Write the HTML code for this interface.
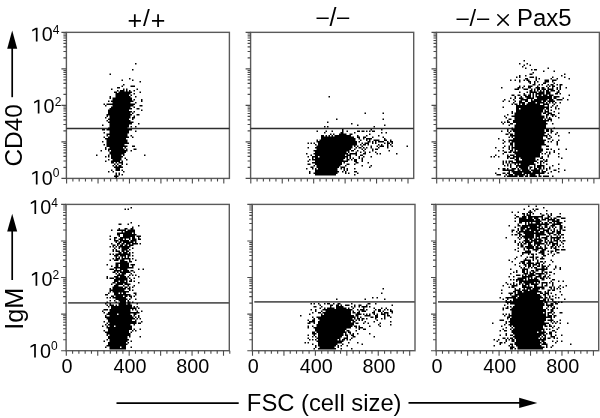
<!DOCTYPE html>
<html><head><meta charset="utf-8"><style>
html,body{margin:0;padding:0;background:#fff;}
body{width:600px;height:418px;overflow:hidden;}
svg{display:block;font-family:"Liberation Sans", sans-serif;}
</style></head><body>
<svg width="600" height="418" viewBox="0 0 600 418">
<rect width="600" height="418" fill="#fff"/>
<g>
<rect x="66.4" y="32.35" width="163.00" height="146.05" fill="none" stroke="#5a5a5a" stroke-width="1.4"/>
<path d="M61.40 178.40H66.4 M63.40 167.41H66.4 M63.40 160.98H66.4 M63.40 156.42H66.4 M63.40 152.88H66.4 M63.40 149.99H66.4 M63.40 147.54H66.4 M63.40 145.43H66.4 M63.40 143.56H66.4 M61.40 141.89H66.4 M63.40 130.90H66.4 M63.40 124.47H66.4 M63.40 119.90H66.4 M63.40 116.37H66.4 M63.40 113.48H66.4 M63.40 111.03H66.4 M63.40 108.91H66.4 M63.40 107.05H66.4 M61.40 105.38H66.4 M63.40 94.38H66.4 M63.40 87.95H66.4 M63.40 83.39H66.4 M63.40 79.85H66.4 M63.40 76.96H66.4 M63.40 74.52H66.4 M63.40 72.40H66.4 M63.40 70.53H66.4 M61.40 68.86H66.4 M63.40 57.87H66.4 M63.40 51.44H66.4 M63.40 46.88H66.4 M63.40 43.34H66.4 M63.40 40.45H66.4 M63.40 38.01H66.4 M63.40 35.89H66.4 M63.40 34.02H66.4 M61.40 32.35H66.4 M66.60 178.4V183.4 M72.89 178.4V181.4 M79.18 178.4V181.4 M85.46 178.4V181.4 M91.75 178.4V181.4 M98.04 178.4V183.4 M104.33 178.4V181.4 M110.62 178.4V181.4 M116.90 178.4V181.4 M123.19 178.4V181.4 M129.48 178.4V183.4 M135.77 178.4V181.4 M142.06 178.4V181.4 M148.34 178.4V181.4 M154.63 178.4V181.4 M160.92 178.4V183.4 M167.21 178.4V181.4 M173.50 178.4V181.4 M179.78 178.4V181.4 M186.07 178.4V181.4 M192.36 178.4V183.4 M198.65 178.4V181.4 M204.94 178.4V181.4 M211.22 178.4V181.4 M217.51 178.4V181.4 M223.80 178.4V183.4" stroke="#4a4a4a" stroke-width="1.1" fill="none"/>
<rect x="250.6" y="32.35" width="163.10" height="146.05" fill="none" stroke="#5a5a5a" stroke-width="1.4"/>
<path d="M245.60 178.40H250.6 M247.60 167.41H250.6 M247.60 160.98H250.6 M247.60 156.42H250.6 M247.60 152.88H250.6 M247.60 149.99H250.6 M247.60 147.54H250.6 M247.60 145.43H250.6 M247.60 143.56H250.6 M245.60 141.89H250.6 M247.60 130.90H250.6 M247.60 124.47H250.6 M247.60 119.90H250.6 M247.60 116.37H250.6 M247.60 113.48H250.6 M247.60 111.03H250.6 M247.60 108.91H250.6 M247.60 107.05H250.6 M245.60 105.38H250.6 M247.60 94.38H250.6 M247.60 87.95H250.6 M247.60 83.39H250.6 M247.60 79.85H250.6 M247.60 76.96H250.6 M247.60 74.52H250.6 M247.60 72.40H250.6 M247.60 70.53H250.6 M245.60 68.86H250.6 M247.60 57.87H250.6 M247.60 51.44H250.6 M247.60 46.88H250.6 M247.60 43.34H250.6 M247.60 40.45H250.6 M247.60 38.01H250.6 M247.60 35.89H250.6 M247.60 34.02H250.6 M245.60 32.35H250.6 M250.80 178.4V183.4 M257.09 178.4V181.4 M263.38 178.4V181.4 M269.66 178.4V181.4 M275.95 178.4V181.4 M282.24 178.4V183.4 M288.53 178.4V181.4 M294.82 178.4V181.4 M301.10 178.4V181.4 M307.39 178.4V181.4 M313.68 178.4V183.4 M319.97 178.4V181.4 M326.26 178.4V181.4 M332.54 178.4V181.4 M338.83 178.4V181.4 M345.12 178.4V183.4 M351.41 178.4V181.4 M357.70 178.4V181.4 M363.98 178.4V181.4 M370.27 178.4V181.4 M376.56 178.4V183.4 M382.85 178.4V181.4 M389.14 178.4V181.4 M395.42 178.4V181.4 M401.71 178.4V181.4 M408.00 178.4V183.4" stroke="#4a4a4a" stroke-width="1.1" fill="none"/>
<rect x="436.5" y="32.35" width="162.90" height="146.05" fill="none" stroke="#5a5a5a" stroke-width="1.4"/>
<path d="M431.50 178.40H436.5 M433.50 167.41H436.5 M433.50 160.98H436.5 M433.50 156.42H436.5 M433.50 152.88H436.5 M433.50 149.99H436.5 M433.50 147.54H436.5 M433.50 145.43H436.5 M433.50 143.56H436.5 M431.50 141.89H436.5 M433.50 130.90H436.5 M433.50 124.47H436.5 M433.50 119.90H436.5 M433.50 116.37H436.5 M433.50 113.48H436.5 M433.50 111.03H436.5 M433.50 108.91H436.5 M433.50 107.05H436.5 M431.50 105.38H436.5 M433.50 94.38H436.5 M433.50 87.95H436.5 M433.50 83.39H436.5 M433.50 79.85H436.5 M433.50 76.96H436.5 M433.50 74.52H436.5 M433.50 72.40H436.5 M433.50 70.53H436.5 M431.50 68.86H436.5 M433.50 57.87H436.5 M433.50 51.44H436.5 M433.50 46.88H436.5 M433.50 43.34H436.5 M433.50 40.45H436.5 M433.50 38.01H436.5 M433.50 35.89H436.5 M433.50 34.02H436.5 M431.50 32.35H436.5 M436.70 178.4V183.4 M442.99 178.4V181.4 M449.28 178.4V181.4 M455.56 178.4V181.4 M461.85 178.4V181.4 M468.14 178.4V183.4 M474.43 178.4V181.4 M480.72 178.4V181.4 M487.00 178.4V181.4 M493.29 178.4V181.4 M499.58 178.4V183.4 M505.87 178.4V181.4 M512.16 178.4V181.4 M518.44 178.4V181.4 M524.73 178.4V181.4 M531.02 178.4V183.4 M537.31 178.4V181.4 M543.60 178.4V181.4 M549.88 178.4V181.4 M556.17 178.4V181.4 M562.46 178.4V183.4 M568.75 178.4V181.4 M575.04 178.4V181.4 M581.32 178.4V181.4 M587.61 178.4V181.4 M593.90 178.4V183.4" stroke="#4a4a4a" stroke-width="1.1" fill="none"/>
<rect x="66.1" y="204.4" width="163.20" height="146.30" fill="none" stroke="#5a5a5a" stroke-width="1.4"/>
<path d="M61.10 350.70H66.1 M63.10 339.69H66.1 M63.10 333.25H66.1 M63.10 328.68H66.1 M63.10 325.14H66.1 M63.10 322.24H66.1 M63.10 319.79H66.1 M63.10 317.67H66.1 M63.10 315.80H66.1 M61.10 314.12H66.1 M63.10 303.11H66.1 M63.10 296.67H66.1 M63.10 292.10H66.1 M63.10 288.56H66.1 M63.10 285.66H66.1 M63.10 283.22H66.1 M63.10 281.09H66.1 M63.10 279.22H66.1 M61.10 277.55H66.1 M63.10 266.54H66.1 M63.10 260.10H66.1 M63.10 255.53H66.1 M63.10 251.99H66.1 M63.10 249.09H66.1 M63.10 246.64H66.1 M63.10 244.52H66.1 M63.10 242.65H66.1 M61.10 240.97H66.1 M63.10 229.96H66.1 M63.10 223.52H66.1 M63.10 218.95H66.1 M63.10 215.41H66.1 M63.10 212.51H66.1 M63.10 210.07H66.1 M63.10 207.94H66.1 M63.10 206.07H66.1 M61.10 204.40H66.1 M66.30 350.7V355.7 M72.59 350.7V353.7 M78.88 350.7V353.7 M85.16 350.7V353.7 M91.45 350.7V353.7 M97.74 350.7V355.7 M104.03 350.7V353.7 M110.32 350.7V353.7 M116.60 350.7V353.7 M122.89 350.7V353.7 M129.18 350.7V355.7 M135.47 350.7V353.7 M141.76 350.7V353.7 M148.04 350.7V353.7 M154.33 350.7V353.7 M160.62 350.7V355.7 M166.91 350.7V353.7 M173.20 350.7V353.7 M179.48 350.7V353.7 M185.77 350.7V353.7 M192.06 350.7V355.7 M198.35 350.7V353.7 M204.64 350.7V353.7 M210.92 350.7V353.7 M217.21 350.7V353.7 M223.50 350.7V355.7 M229.79 350.7V353.7" stroke="#4a4a4a" stroke-width="1.1" fill="none"/>
<rect x="252.3" y="204.4" width="162.70" height="146.30" fill="none" stroke="#5a5a5a" stroke-width="1.4"/>
<path d="M247.30 350.70H252.3 M249.30 339.69H252.3 M249.30 333.25H252.3 M249.30 328.68H252.3 M249.30 325.14H252.3 M249.30 322.24H252.3 M249.30 319.79H252.3 M249.30 317.67H252.3 M249.30 315.80H252.3 M247.30 314.12H252.3 M249.30 303.11H252.3 M249.30 296.67H252.3 M249.30 292.10H252.3 M249.30 288.56H252.3 M249.30 285.66H252.3 M249.30 283.22H252.3 M249.30 281.09H252.3 M249.30 279.22H252.3 M247.30 277.55H252.3 M249.30 266.54H252.3 M249.30 260.10H252.3 M249.30 255.53H252.3 M249.30 251.99H252.3 M249.30 249.09H252.3 M249.30 246.64H252.3 M249.30 244.52H252.3 M249.30 242.65H252.3 M247.30 240.97H252.3 M249.30 229.96H252.3 M249.30 223.52H252.3 M249.30 218.95H252.3 M249.30 215.41H252.3 M249.30 212.51H252.3 M249.30 210.07H252.3 M249.30 207.94H252.3 M249.30 206.07H252.3 M247.30 204.40H252.3 M252.50 350.7V355.7 M258.79 350.7V353.7 M265.08 350.7V353.7 M271.36 350.7V353.7 M277.65 350.7V353.7 M283.94 350.7V355.7 M290.23 350.7V353.7 M296.52 350.7V353.7 M302.80 350.7V353.7 M309.09 350.7V353.7 M315.38 350.7V355.7 M321.67 350.7V353.7 M327.96 350.7V353.7 M334.24 350.7V353.7 M340.53 350.7V353.7 M346.82 350.7V355.7 M353.11 350.7V353.7 M359.40 350.7V353.7 M365.68 350.7V353.7 M371.97 350.7V353.7 M378.26 350.7V355.7 M384.55 350.7V353.7 M390.84 350.7V353.7 M397.12 350.7V353.7 M403.41 350.7V353.7 M409.70 350.7V355.7" stroke="#4a4a4a" stroke-width="1.1" fill="none"/>
<rect x="436.0" y="204.4" width="162.70" height="146.30" fill="none" stroke="#5a5a5a" stroke-width="1.4"/>
<path d="M431.00 350.70H436.0 M433.00 339.69H436.0 M433.00 333.25H436.0 M433.00 328.68H436.0 M433.00 325.14H436.0 M433.00 322.24H436.0 M433.00 319.79H436.0 M433.00 317.67H436.0 M433.00 315.80H436.0 M431.00 314.12H436.0 M433.00 303.11H436.0 M433.00 296.67H436.0 M433.00 292.10H436.0 M433.00 288.56H436.0 M433.00 285.66H436.0 M433.00 283.22H436.0 M433.00 281.09H436.0 M433.00 279.22H436.0 M431.00 277.55H436.0 M433.00 266.54H436.0 M433.00 260.10H436.0 M433.00 255.53H436.0 M433.00 251.99H436.0 M433.00 249.09H436.0 M433.00 246.64H436.0 M433.00 244.52H436.0 M433.00 242.65H436.0 M431.00 240.97H436.0 M433.00 229.96H436.0 M433.00 223.52H436.0 M433.00 218.95H436.0 M433.00 215.41H436.0 M433.00 212.51H436.0 M433.00 210.07H436.0 M433.00 207.94H436.0 M433.00 206.07H436.0 M431.00 204.40H436.0 M436.20 350.7V355.7 M442.49 350.7V353.7 M448.78 350.7V353.7 M455.06 350.7V353.7 M461.35 350.7V353.7 M467.64 350.7V355.7 M473.93 350.7V353.7 M480.22 350.7V353.7 M486.50 350.7V353.7 M492.79 350.7V353.7 M499.08 350.7V355.7 M505.37 350.7V353.7 M511.66 350.7V353.7 M517.94 350.7V353.7 M524.23 350.7V353.7 M530.52 350.7V355.7 M536.81 350.7V353.7 M543.10 350.7V353.7 M549.38 350.7V353.7 M555.67 350.7V353.7 M561.96 350.7V355.7 M568.25 350.7V353.7 M574.54 350.7V353.7 M580.82 350.7V353.7 M587.11 350.7V353.7 M593.40 350.7V355.7" stroke="#4a4a4a" stroke-width="1.1" fill="none"/>
<path d="M66.4 128.46H229.4" stroke="#2e2e2e" stroke-width="1.6"/>
<path d="M250.6 128.46H413.7" stroke="#2e2e2e" stroke-width="1.6"/>
<path d="M436.5 128.46H599.4" stroke="#2e2e2e" stroke-width="1.6"/>
<path d="M68.1 302.9H229.3" stroke="#5a5a5a" stroke-width="1.7"/>
<path d="M254.3 301.9H415.0" stroke="#5a5a5a" stroke-width="1.7"/>
<path d="M438.0 301.9H598.7" stroke="#5a5a5a" stroke-width="1.7"/>
<path d="M12.2 97.2V46" stroke="#000" stroke-width="1.7"/>
<path d="M12.2 30.5L17.2 48.7L7.2 48.7Z" fill="#000"/>
<path d="M12.2 280V229" stroke="#000" stroke-width="1.7"/>
<path d="M12.2 213.8L17.2 231.6L7.2 231.6Z" fill="#000"/>
<path d="M116.5 403.2H238.7" stroke="#000" stroke-width="1.7"/>
<path d="M408.5 402.9H521" stroke="#000" stroke-width="1.7"/>
<path d="M537.3 402.9L519.2 397.8L519.2 407.9Z" fill="#000"/>
<path d="M497.8 14.8L508.3 25.1M508.3 14.8L497.8 25.1" stroke="#000" stroke-width="1.5" stroke-linecap="round" fill="none"/>
<path fill="#000" d="M523.5 60h1.5v1.5h-1.5zM135 63h1.5v1.5h-1.5zM519 63h1.5v1.5h-1.5zM526.5 63h1.5v1.5h-1.5zM523.5 64.5h1.5v1.5h-1.5zM529.5 64.5h1.5v1.5h-1.5zM522 66h1.5v1.5h-1.5zM525 67.5h1.5v1.5h-1.5zM547.5 67.5h1.5v1.5h-1.5zM132 69h1.5v1.5h-1.5zM531 69h1.5v1.5h-1.5zM534 69h3v1.5h-3zM543 70.5h1.5v1.5h-1.5zM553.5 70.5h1.5v1.5h-1.5zM532.5 72h1.5v1.5h-1.5zM109.5 73.5h1.5v1.5h-1.5zM529.5 73.5h3v1.5h-3zM564 73.5h1.5v1.5h-1.5zM519 75h1.5v1.5h-1.5zM525 75h1.5v1.5h-1.5zM561 75h1.5v1.5h-1.5zM516 76.5h1.5v1.5h-1.5zM519 76.5h1.5v1.5h-1.5zM529.5 76.5h4.5v1.5h-4.5zM535.5 76.5h1.5v1.5h-1.5zM552 76.5h1.5v1.5h-1.5zM564 76.5h1.5v1.5h-1.5zM129 78h1.5v1.5h-1.5zM525 78h3v1.5h-3zM535.5 78h1.5v1.5h-1.5zM538.5 78h1.5v1.5h-1.5zM550.5 78h1.5v1.5h-1.5zM556.5 78h1.5v1.5h-1.5zM568.5 78h1.5v1.5h-1.5zM121.5 79.5h1.5v1.5h-1.5zM132 79.5h1.5v1.5h-1.5zM510 79.5h1.5v1.5h-1.5zM514.5 79.5h1.5v1.5h-1.5zM519 79.5h1.5v1.5h-1.5zM523.5 79.5h1.5v1.5h-1.5zM526.5 79.5h3v1.5h-3zM535.5 79.5h1.5v1.5h-1.5zM544.5 79.5h4.5v1.5h-4.5zM552 79.5h4.5v1.5h-4.5zM139.5 81h1.5v1.5h-1.5zM519 81h1.5v1.5h-1.5zM528 81h3v1.5h-3zM534 81h1.5v1.5h-1.5zM537 81h1.5v1.5h-1.5zM544.5 81h4.5v1.5h-4.5zM552 81h1.5v1.5h-1.5zM529.5 82.5h1.5v1.5h-1.5zM534 82.5h1.5v1.5h-1.5zM543 82.5h3v1.5h-3zM553.5 82.5h1.5v1.5h-1.5zM123 84h1.5v1.5h-1.5zM532.5 84h3v1.5h-3zM538.5 84h1.5v1.5h-1.5zM541.5 84h1.5v1.5h-1.5zM547.5 84h1.5v1.5h-1.5zM550.5 84h3v1.5h-3zM556.5 84h1.5v1.5h-1.5zM559.5 84h3v1.5h-3zM121.5 85.5h1.5v1.5h-1.5zM130.5 85.5h4.5v1.5h-4.5zM519 85.5h1.5v1.5h-1.5zM523.5 85.5h1.5v1.5h-1.5zM528 85.5h4.5v1.5h-4.5zM537 85.5h1.5v1.5h-1.5zM546 85.5h1.5v1.5h-1.5zM549 85.5h1.5v1.5h-1.5zM552 85.5h3v1.5h-3zM559.5 85.5h1.5v1.5h-1.5zM117 87h3v1.5h-3zM501 87h1.5v1.5h-1.5zM517.5 87h3v1.5h-3zM522 87h1.5v1.5h-1.5zM528 87h3v1.5h-3zM535.5 87h4.5v1.5h-4.5zM541.5 87h3v1.5h-3zM547.5 87h1.5v1.5h-1.5zM552 87h1.5v1.5h-1.5zM556.5 87h1.5v1.5h-1.5zM559.5 87h1.5v1.5h-1.5zM565.5 87h1.5v1.5h-1.5zM111 88.5h1.5v1.5h-1.5zM123 88.5h1.5v1.5h-1.5zM126 88.5h1.5v1.5h-1.5zM136.5 88.5h1.5v1.5h-1.5zM514.5 88.5h4.5v1.5h-4.5zM523.5 88.5h4.5v1.5h-4.5zM531 88.5h1.5v1.5h-1.5zM534 88.5h1.5v1.5h-1.5zM537 88.5h3v1.5h-3zM541.5 88.5h4.5v1.5h-4.5zM547.5 88.5h6v1.5h-6zM556.5 88.5h1.5v1.5h-1.5zM559.5 88.5h1.5v1.5h-1.5zM117 90h1.5v1.5h-1.5zM120 90h4.5v1.5h-4.5zM126 90h1.5v1.5h-1.5zM129 90h1.5v1.5h-1.5zM133.5 90h1.5v1.5h-1.5zM529.5 90h3v1.5h-3zM534 90h1.5v1.5h-1.5zM537 90h1.5v1.5h-1.5zM540 90h1.5v1.5h-1.5zM543 90h1.5v1.5h-1.5zM546 90h3v1.5h-3zM550.5 90h4.5v1.5h-4.5zM558 90h1.5v1.5h-1.5zM114 91.5h3v1.5h-3zM118.5 91.5h13.5v1.5h-13.5zM139.5 91.5h1.5v1.5h-1.5zM519 91.5h1.5v1.5h-1.5zM526.5 91.5h1.5v1.5h-1.5zM529.5 91.5h7.5v1.5h-7.5zM538.5 91.5h6v1.5h-6zM546 91.5h4.5v1.5h-4.5zM556.5 91.5h3v1.5h-3zM115.5 93h15v1.5h-15zM133.5 93h1.5v1.5h-1.5zM523.5 93h1.5v1.5h-1.5zM529.5 93h1.5v1.5h-1.5zM532.5 93h1.5v1.5h-1.5zM535.5 93h9v1.5h-9zM546 93h4.5v1.5h-4.5zM555 93h3v1.5h-3zM559.5 93h1.5v1.5h-1.5zM115.5 94.5h13.5v1.5h-13.5zM130.5 94.5h1.5v1.5h-1.5zM511.5 94.5h3v1.5h-3zM517.5 94.5h3v1.5h-3zM523.5 94.5h3v1.5h-3zM528 94.5h3v1.5h-3zM532.5 94.5h1.5v1.5h-1.5zM535.5 94.5h1.5v1.5h-1.5zM538.5 94.5h3v1.5h-3zM543 94.5h4.5v1.5h-4.5zM549 94.5h4.5v1.5h-4.5zM568.5 94.5h1.5v1.5h-1.5zM109.5 96h1.5v1.5h-1.5zM115.5 96h15v1.5h-15zM135 96h1.5v1.5h-1.5zM328.5 96h1.5v1.5h-1.5zM514.5 96h1.5v1.5h-1.5zM520.5 96h1.5v1.5h-1.5zM525 96h6v1.5h-6zM532.5 96h1.5v1.5h-1.5zM535.5 96h16.5v1.5h-16.5zM553.5 96h6v1.5h-6zM109.5 97.5h1.5v1.5h-1.5zM112.5 97.5h19.5v1.5h-19.5zM510 97.5h1.5v1.5h-1.5zM514.5 97.5h1.5v1.5h-1.5zM519 97.5h4.5v1.5h-4.5zM526.5 97.5h7.5v1.5h-7.5zM537 97.5h15v1.5h-15zM553.5 97.5h3v1.5h-3zM562.5 97.5h1.5v1.5h-1.5zM112.5 99h19.5v1.5h-19.5zM133.5 99h1.5v1.5h-1.5zM141 99h1.5v1.5h-1.5zM504 99h1.5v1.5h-1.5zM513 99h1.5v1.5h-1.5zM520.5 99h7.5v1.5h-7.5zM531 99h1.5v1.5h-1.5zM534 99h13.5v1.5h-13.5zM549 99h4.5v1.5h-4.5zM556.5 99h6v1.5h-6zM567 99h1.5v1.5h-1.5zM108 100.5h1.5v1.5h-1.5zM111 100.5h22.5v1.5h-22.5zM141 100.5h1.5v1.5h-1.5zM502.5 100.5h1.5v1.5h-1.5zM508.5 100.5h1.5v1.5h-1.5zM514.5 100.5h1.5v1.5h-1.5zM519 100.5h3v1.5h-3zM525 100.5h3v1.5h-3zM531 100.5h10.5v1.5h-10.5zM543 100.5h3v1.5h-3zM547.5 100.5h7.5v1.5h-7.5zM112.5 102h18v1.5h-18zM135 102h1.5v1.5h-1.5zM513 102h1.5v1.5h-1.5zM519 102h6v1.5h-6zM528 102h7.5v1.5h-7.5zM537 102h7.5v1.5h-7.5zM546 102h1.5v1.5h-1.5zM549 102h1.5v1.5h-1.5zM552 102h1.5v1.5h-1.5zM555 102h1.5v1.5h-1.5zM559.5 102h1.5v1.5h-1.5zM103.5 103.5h1.5v1.5h-1.5zM106.5 103.5h28.5v1.5h-28.5zM511.5 103.5h1.5v1.5h-1.5zM514.5 103.5h3v1.5h-3zM519 103.5h1.5v1.5h-1.5zM522 103.5h3v1.5h-3zM526.5 103.5h13.5v1.5h-13.5zM543 103.5h6v1.5h-6zM553.5 103.5h1.5v1.5h-1.5zM105 105h1.5v1.5h-1.5zM112.5 105h21v1.5h-21zM139.5 105h3v1.5h-3zM516 105h28.5v1.5h-28.5zM547.5 105h1.5v1.5h-1.5zM552 105h1.5v1.5h-1.5zM556.5 105h1.5v1.5h-1.5zM111 106.5h19.5v1.5h-19.5zM133.5 106.5h1.5v1.5h-1.5zM502.5 106.5h1.5v1.5h-1.5zM516 106.5h33v1.5h-33zM550.5 106.5h1.5v1.5h-1.5zM555 106.5h1.5v1.5h-1.5zM109.5 108h22.5v1.5h-22.5zM136.5 108h3v1.5h-3zM516 108h3v1.5h-3zM520.5 108h24v1.5h-24zM546 108h3v1.5h-3zM555 108h1.5v1.5h-1.5zM558 108h1.5v1.5h-1.5zM108 109.5h21v1.5h-21zM141 109.5h1.5v1.5h-1.5zM516 109.5h27v1.5h-27zM544.5 109.5h1.5v1.5h-1.5zM547.5 109.5h1.5v1.5h-1.5zM550.5 109.5h1.5v1.5h-1.5zM108 111h24v1.5h-24zM133.5 111h1.5v1.5h-1.5zM511.5 111h1.5v1.5h-1.5zM516 111h27v1.5h-27zM544.5 111h4.5v1.5h-4.5zM553.5 111h1.5v1.5h-1.5zM108 112.5h22.5v1.5h-22.5zM132 112.5h1.5v1.5h-1.5zM364.5 112.5h1.5v1.5h-1.5zM382.5 112.5h1.5v1.5h-1.5zM511.5 112.5h1.5v1.5h-1.5zM514.5 112.5h27v1.5h-27zM543 112.5h3v1.5h-3zM547.5 112.5h4.5v1.5h-4.5zM558 112.5h1.5v1.5h-1.5zM106.5 114h25.5v1.5h-25.5zM136.5 114h3v1.5h-3zM507 114h1.5v1.5h-1.5zM514.5 114h27v1.5h-27zM546 114h3v1.5h-3zM550.5 114h4.5v1.5h-4.5zM106.5 115.5h1.5v1.5h-1.5zM109.5 115.5h21v1.5h-21zM133.5 115.5h1.5v1.5h-1.5zM504 115.5h1.5v1.5h-1.5zM511.5 115.5h33v1.5h-33zM546 115.5h1.5v1.5h-1.5zM552 115.5h1.5v1.5h-1.5zM555 115.5h1.5v1.5h-1.5zM105 117h1.5v1.5h-1.5zM109.5 117h21v1.5h-21zM132 117h3v1.5h-3zM505.5 117h1.5v1.5h-1.5zM514.5 117h30v1.5h-30zM546 117h1.5v1.5h-1.5zM549 117h1.5v1.5h-1.5zM558 117h1.5v1.5h-1.5zM108 118.5h21v1.5h-21zM132 118.5h1.5v1.5h-1.5zM336 118.5h1.5v1.5h-1.5zM382.5 118.5h1.5v1.5h-1.5zM508.5 118.5h3v1.5h-3zM514.5 118.5h28.5v1.5h-28.5zM544.5 118.5h1.5v1.5h-1.5zM547.5 118.5h4.5v1.5h-4.5zM106.5 120h1.5v1.5h-1.5zM109.5 120h21v1.5h-21zM507 120h1.5v1.5h-1.5zM513 120h36v1.5h-36zM550.5 120h1.5v1.5h-1.5zM108 121.5h25.5v1.5h-25.5zM327 121.5h1.5v1.5h-1.5zM501 121.5h1.5v1.5h-1.5zM504 121.5h1.5v1.5h-1.5zM507 121.5h3v1.5h-3zM513 121.5h33v1.5h-33zM109.5 123h22.5v1.5h-22.5zM138 123h1.5v1.5h-1.5zM351 123h1.5v1.5h-1.5zM502.5 123h1.5v1.5h-1.5zM510 123h3v1.5h-3zM516 123h31.5v1.5h-31.5zM552 123h1.5v1.5h-1.5zM102 124.5h1.5v1.5h-1.5zM109.5 124.5h19.5v1.5h-19.5zM357 124.5h1.5v1.5h-1.5zM384 124.5h1.5v1.5h-1.5zM508.5 124.5h1.5v1.5h-1.5zM514.5 124.5h31.5v1.5h-31.5zM109.5 126h19.5v1.5h-19.5zM130.5 126h1.5v1.5h-1.5zM135 126h1.5v1.5h-1.5zM324 126h1.5v1.5h-1.5zM327 126h1.5v1.5h-1.5zM373.5 126h1.5v1.5h-1.5zM514.5 126h31.5v1.5h-31.5zM108 127.5h19.5v1.5h-19.5zM511.5 127.5h1.5v1.5h-1.5zM514.5 127.5h31.5v1.5h-31.5zM553.5 127.5h1.5v1.5h-1.5zM102 129h3v1.5h-3zM106.5 129h25.5v1.5h-25.5zM342 129h1.5v1.5h-1.5zM370.5 129h1.5v1.5h-1.5zM381 129h1.5v1.5h-1.5zM507 129h1.5v1.5h-1.5zM511.5 129h33v1.5h-33zM546 129h3v1.5h-3zM550.5 129h1.5v1.5h-1.5zM109.5 130.5h19.5v1.5h-19.5zM135 130.5h1.5v1.5h-1.5zM316.5 130.5h1.5v1.5h-1.5zM325.5 130.5h1.5v1.5h-1.5zM331.5 130.5h1.5v1.5h-1.5zM342 130.5h1.5v1.5h-1.5zM346.5 130.5h1.5v1.5h-1.5zM357 130.5h3v1.5h-3zM361.5 130.5h3v1.5h-3zM366 130.5h1.5v1.5h-1.5zM369 130.5h1.5v1.5h-1.5zM372 130.5h3v1.5h-3zM501 130.5h1.5v1.5h-1.5zM507 130.5h1.5v1.5h-1.5zM510 130.5h1.5v1.5h-1.5zM513 130.5h31.5v1.5h-31.5zM546 130.5h3v1.5h-3zM550.5 130.5h3v1.5h-3zM103.5 132h1.5v1.5h-1.5zM109.5 132h19.5v1.5h-19.5zM324 132h1.5v1.5h-1.5zM340.5 132h3v1.5h-3zM354 132h1.5v1.5h-1.5zM381 132h1.5v1.5h-1.5zM385.5 132h1.5v1.5h-1.5zM508.5 132h1.5v1.5h-1.5zM514.5 132h31.5v1.5h-31.5zM550.5 132h1.5v1.5h-1.5zM556.5 132h1.5v1.5h-1.5zM568.5 132h1.5v1.5h-1.5zM106.5 133.5h21v1.5h-21zM330 133.5h1.5v1.5h-1.5zM333 133.5h1.5v1.5h-1.5zM339 133.5h7.5v1.5h-7.5zM349.5 133.5h3v1.5h-3zM369 133.5h1.5v1.5h-1.5zM505.5 133.5h3v1.5h-3zM510 133.5h3v1.5h-3zM514.5 133.5h30v1.5h-30zM547.5 133.5h1.5v1.5h-1.5zM555 133.5h1.5v1.5h-1.5zM106.5 135h1.5v1.5h-1.5zM109.5 135h18v1.5h-18zM130.5 135h1.5v1.5h-1.5zM321 135h3v1.5h-3zM325.5 135h1.5v1.5h-1.5zM328.5 135h1.5v1.5h-1.5zM331.5 135h1.5v1.5h-1.5zM334.5 135h16.5v1.5h-16.5zM357 135h1.5v1.5h-1.5zM366 135h1.5v1.5h-1.5zM378 135h1.5v1.5h-1.5zM510 135h37.5v1.5h-37.5zM549 135h1.5v1.5h-1.5zM558 135h1.5v1.5h-1.5zM103.5 136.5h1.5v1.5h-1.5zM108 136.5h21v1.5h-21zM132 136.5h1.5v1.5h-1.5zM321 136.5h33v1.5h-33zM357 136.5h3v1.5h-3zM363 136.5h3v1.5h-3zM372 136.5h1.5v1.5h-1.5zM382.5 136.5h1.5v1.5h-1.5zM508.5 136.5h1.5v1.5h-1.5zM511.5 136.5h1.5v1.5h-1.5zM514.5 136.5h28.5v1.5h-28.5zM546 136.5h1.5v1.5h-1.5zM550.5 136.5h1.5v1.5h-1.5zM105 138h21v1.5h-21zM321 138h34.5v1.5h-34.5zM358.5 138h1.5v1.5h-1.5zM363 138h1.5v1.5h-1.5zM366 138h6v1.5h-6zM384 138h1.5v1.5h-1.5zM498 138h1.5v1.5h-1.5zM513 138h30v1.5h-30zM547.5 138h3v1.5h-3zM106.5 139.5h21v1.5h-21zM316.5 139.5h1.5v1.5h-1.5zM319.5 139.5h36v1.5h-36zM360 139.5h1.5v1.5h-1.5zM366 139.5h1.5v1.5h-1.5zM369 139.5h1.5v1.5h-1.5zM373.5 139.5h6v1.5h-6zM384 139.5h3v1.5h-3zM390 139.5h1.5v1.5h-1.5zM502.5 139.5h1.5v1.5h-1.5zM508.5 139.5h37.5v1.5h-37.5zM552 139.5h1.5v1.5h-1.5zM558 139.5h1.5v1.5h-1.5zM102 141h1.5v1.5h-1.5zM106.5 141h21v1.5h-21zM316.5 141h40.5v1.5h-40.5zM358.5 141h1.5v1.5h-1.5zM367.5 141h3v1.5h-3zM372 141h1.5v1.5h-1.5zM375 141h1.5v1.5h-1.5zM378 141h6v1.5h-6zM387 141h1.5v1.5h-1.5zM390 141h3v1.5h-3zM504 141h1.5v1.5h-1.5zM508.5 141h1.5v1.5h-1.5zM511.5 141h33v1.5h-33zM547.5 141h1.5v1.5h-1.5zM550.5 141h1.5v1.5h-1.5zM556.5 141h1.5v1.5h-1.5zM106.5 142.5h22.5v1.5h-22.5zM307.5 142.5h1.5v1.5h-1.5zM310.5 142.5h1.5v1.5h-1.5zM313.5 142.5h1.5v1.5h-1.5zM318 142.5h39v1.5h-39zM361.5 142.5h1.5v1.5h-1.5zM364.5 142.5h4.5v1.5h-4.5zM372 142.5h1.5v1.5h-1.5zM375 142.5h1.5v1.5h-1.5zM384 142.5h1.5v1.5h-1.5zM387 142.5h3v1.5h-3zM391.5 142.5h1.5v1.5h-1.5zM502.5 142.5h1.5v1.5h-1.5zM510 142.5h3v1.5h-3zM514.5 142.5h30v1.5h-30zM556.5 142.5h1.5v1.5h-1.5zM103.5 144h1.5v1.5h-1.5zM106.5 144h18v1.5h-18zM315 144h1.5v1.5h-1.5zM318 144h39v1.5h-39zM360 144h1.5v1.5h-1.5zM363 144h3v1.5h-3zM367.5 144h1.5v1.5h-1.5zM378 144h1.5v1.5h-1.5zM381 144h1.5v1.5h-1.5zM387 144h1.5v1.5h-1.5zM390 144h1.5v1.5h-1.5zM510 144h3v1.5h-3zM514.5 144h31.5v1.5h-31.5zM556.5 144h1.5v1.5h-1.5zM106.5 145.5h21v1.5h-21zM132 145.5h3v1.5h-3zM316.5 145.5h36v1.5h-36zM354 145.5h1.5v1.5h-1.5zM357 145.5h1.5v1.5h-1.5zM361.5 145.5h1.5v1.5h-1.5zM370.5 145.5h1.5v1.5h-1.5zM376.5 145.5h1.5v1.5h-1.5zM379.5 145.5h4.5v1.5h-4.5zM387 145.5h1.5v1.5h-1.5zM391.5 145.5h1.5v1.5h-1.5zM406.5 145.5h1.5v1.5h-1.5zM504 145.5h1.5v1.5h-1.5zM508.5 145.5h1.5v1.5h-1.5zM511.5 145.5h1.5v1.5h-1.5zM514.5 145.5h27v1.5h-27zM546 145.5h3v1.5h-3zM105 147h1.5v1.5h-1.5zM109.5 147h13.5v1.5h-13.5zM124.5 147h1.5v1.5h-1.5zM307.5 147h1.5v1.5h-1.5zM315 147h37.5v1.5h-37.5zM355.5 147h1.5v1.5h-1.5zM358.5 147h3v1.5h-3zM363 147h1.5v1.5h-1.5zM366 147h1.5v1.5h-1.5zM370.5 147h1.5v1.5h-1.5zM378 147h1.5v1.5h-1.5zM387 147h1.5v1.5h-1.5zM495 147h1.5v1.5h-1.5zM502.5 147h1.5v1.5h-1.5zM508.5 147h1.5v1.5h-1.5zM511.5 147h30v1.5h-30zM105 148.5h1.5v1.5h-1.5zM108 148.5h16.5v1.5h-16.5zM126 148.5h1.5v1.5h-1.5zM133.5 148.5h3v1.5h-3zM316.5 148.5h34.5v1.5h-34.5zM354 148.5h1.5v1.5h-1.5zM361.5 148.5h1.5v1.5h-1.5zM364.5 148.5h1.5v1.5h-1.5zM372 148.5h1.5v1.5h-1.5zM375 148.5h3v1.5h-3zM508.5 148.5h1.5v1.5h-1.5zM511.5 148.5h1.5v1.5h-1.5zM514.5 148.5h28.5v1.5h-28.5zM546 148.5h3v1.5h-3zM550.5 148.5h1.5v1.5h-1.5zM558 148.5h1.5v1.5h-1.5zM565.5 148.5h1.5v1.5h-1.5zM100.5 150h1.5v1.5h-1.5zM108 150h1.5v1.5h-1.5zM111 150h16.5v1.5h-16.5zM130.5 150h1.5v1.5h-1.5zM313.5 150h36v1.5h-36zM351 150h3v1.5h-3zM357 150h1.5v1.5h-1.5zM363 150h1.5v1.5h-1.5zM372 150h1.5v1.5h-1.5zM388.5 150h1.5v1.5h-1.5zM498 150h1.5v1.5h-1.5zM502.5 150h1.5v1.5h-1.5zM510 150h3v1.5h-3zM514.5 150h1.5v1.5h-1.5zM517.5 150h25.5v1.5h-25.5zM553.5 150h1.5v1.5h-1.5zM109.5 151.5h16.5v1.5h-16.5zM315 151.5h31.5v1.5h-31.5zM348 151.5h1.5v1.5h-1.5zM355.5 151.5h1.5v1.5h-1.5zM360 151.5h1.5v1.5h-1.5zM364.5 151.5h1.5v1.5h-1.5zM369 151.5h1.5v1.5h-1.5zM375 151.5h1.5v1.5h-1.5zM504 151.5h3v1.5h-3zM508.5 151.5h3v1.5h-3zM513 151.5h28.5v1.5h-28.5zM546 151.5h1.5v1.5h-1.5zM549 151.5h1.5v1.5h-1.5zM553.5 151.5h1.5v1.5h-1.5zM109.5 153h15v1.5h-15zM306 153h1.5v1.5h-1.5zM313.5 153h34.5v1.5h-34.5zM349.5 153h7.5v1.5h-7.5zM363 153h3v1.5h-3zM376.5 153h1.5v1.5h-1.5zM379.5 153h1.5v1.5h-1.5zM396 153h1.5v1.5h-1.5zM502.5 153h1.5v1.5h-1.5zM514.5 153h25.5v1.5h-25.5zM541.5 153h1.5v1.5h-1.5zM544.5 153h1.5v1.5h-1.5zM549 153h1.5v1.5h-1.5zM558 153h1.5v1.5h-1.5zM96 154.5h1.5v1.5h-1.5zM108 154.5h1.5v1.5h-1.5zM111 154.5h10.5v1.5h-10.5zM123 154.5h1.5v1.5h-1.5zM144 154.5h1.5v1.5h-1.5zM310.5 154.5h1.5v1.5h-1.5zM315 154.5h30v1.5h-30zM346.5 154.5h4.5v1.5h-4.5zM355.5 154.5h1.5v1.5h-1.5zM360 154.5h3v1.5h-3zM495 154.5h1.5v1.5h-1.5zM507 154.5h1.5v1.5h-1.5zM510 154.5h4.5v1.5h-4.5zM516 154.5h24v1.5h-24zM547.5 154.5h1.5v1.5h-1.5zM105 156h1.5v1.5h-1.5zM108 156h1.5v1.5h-1.5zM111 156h12v1.5h-12zM307.5 156h1.5v1.5h-1.5zM312 156h6v1.5h-6zM319.5 156h28.5v1.5h-28.5zM349.5 156h1.5v1.5h-1.5zM358.5 156h1.5v1.5h-1.5zM363 156h1.5v1.5h-1.5zM370.5 156h1.5v1.5h-1.5zM490.5 156h1.5v1.5h-1.5zM493.5 156h1.5v1.5h-1.5zM498 156h1.5v1.5h-1.5zM507 156h3v1.5h-3zM513 156h27v1.5h-27zM541.5 156h1.5v1.5h-1.5zM547.5 156h1.5v1.5h-1.5zM558 156h1.5v1.5h-1.5zM111 157.5h10.5v1.5h-10.5zM124.5 157.5h1.5v1.5h-1.5zM312 157.5h1.5v1.5h-1.5zM315 157.5h30v1.5h-30zM346.5 157.5h1.5v1.5h-1.5zM349.5 157.5h1.5v1.5h-1.5zM352.5 157.5h1.5v1.5h-1.5zM358.5 157.5h1.5v1.5h-1.5zM361.5 157.5h1.5v1.5h-1.5zM507 157.5h1.5v1.5h-1.5zM510 157.5h4.5v1.5h-4.5zM516 157.5h3v1.5h-3zM520.5 157.5h15v1.5h-15zM540 157.5h3v1.5h-3zM561 157.5h1.5v1.5h-1.5zM108 159h1.5v1.5h-1.5zM112.5 159h9v1.5h-9zM126 159h1.5v1.5h-1.5zM309 159h1.5v1.5h-1.5zM312 159h31.5v1.5h-31.5zM346.5 159h3v1.5h-3zM351 159h1.5v1.5h-1.5zM354 159h3v1.5h-3zM361.5 159h1.5v1.5h-1.5zM514.5 159h4.5v1.5h-4.5zM522 159h13.5v1.5h-13.5zM537 159h1.5v1.5h-1.5zM543 159h1.5v1.5h-1.5zM546 159h1.5v1.5h-1.5zM105 160.5h1.5v1.5h-1.5zM111 160.5h9v1.5h-9zM121.5 160.5h1.5v1.5h-1.5zM307.5 160.5h1.5v1.5h-1.5zM315 160.5h33v1.5h-33zM354 160.5h3v1.5h-3zM361.5 160.5h1.5v1.5h-1.5zM502.5 160.5h1.5v1.5h-1.5zM505.5 160.5h1.5v1.5h-1.5zM508.5 160.5h4.5v1.5h-4.5zM516 160.5h21v1.5h-21zM540 160.5h3v1.5h-3zM544.5 160.5h3v1.5h-3zM111 162h3v1.5h-3zM115.5 162h1.5v1.5h-1.5zM118.5 162h4.5v1.5h-4.5zM312 162h30v1.5h-30zM343.5 162h1.5v1.5h-1.5zM355.5 162h3v1.5h-3zM367.5 162h1.5v1.5h-1.5zM502.5 162h1.5v1.5h-1.5zM505.5 162h1.5v1.5h-1.5zM508.5 162h1.5v1.5h-1.5zM511.5 162h22.5v1.5h-22.5zM537 162h1.5v1.5h-1.5zM540 162h1.5v1.5h-1.5zM543 162h1.5v1.5h-1.5zM114 163.5h1.5v1.5h-1.5zM117 163.5h1.5v1.5h-1.5zM121.5 163.5h1.5v1.5h-1.5zM126 163.5h1.5v1.5h-1.5zM307.5 163.5h3v1.5h-3zM315 163.5h27v1.5h-27zM346.5 163.5h3v1.5h-3zM354 163.5h1.5v1.5h-1.5zM502.5 163.5h1.5v1.5h-1.5zM507 163.5h1.5v1.5h-1.5zM510 163.5h1.5v1.5h-1.5zM514.5 163.5h1.5v1.5h-1.5zM517.5 163.5h1.5v1.5h-1.5zM520.5 163.5h15v1.5h-15zM540 163.5h1.5v1.5h-1.5zM546 163.5h1.5v1.5h-1.5zM558 163.5h1.5v1.5h-1.5zM112.5 165h1.5v1.5h-1.5zM115.5 165h1.5v1.5h-1.5zM118.5 165h3v1.5h-3zM313.5 165h1.5v1.5h-1.5zM316.5 165h24v1.5h-24zM345 165h1.5v1.5h-1.5zM361.5 165h1.5v1.5h-1.5zM370.5 165h1.5v1.5h-1.5zM504 165h1.5v1.5h-1.5zM507 165h1.5v1.5h-1.5zM510 165h1.5v1.5h-1.5zM516 165h13.5v1.5h-13.5zM534 165h1.5v1.5h-1.5zM537 165h7.5v1.5h-7.5zM552 165h1.5v1.5h-1.5zM114 166.5h9v1.5h-9zM310.5 166.5h3v1.5h-3zM316.5 166.5h22.5v1.5h-22.5zM340.5 166.5h4.5v1.5h-4.5zM369 166.5h1.5v1.5h-1.5zM510 166.5h1.5v1.5h-1.5zM516 166.5h1.5v1.5h-1.5zM519 166.5h9v1.5h-9zM529.5 166.5h3v1.5h-3zM534 166.5h1.5v1.5h-1.5zM537 166.5h4.5v1.5h-4.5zM543 166.5h1.5v1.5h-1.5zM549 166.5h1.5v1.5h-1.5zM115.5 168h4.5v1.5h-4.5zM306 168h1.5v1.5h-1.5zM312 168h1.5v1.5h-1.5zM315 168h1.5v1.5h-1.5zM318 168h19.5v1.5h-19.5zM340.5 168h1.5v1.5h-1.5zM343.5 168h1.5v1.5h-1.5zM346.5 168h1.5v1.5h-1.5zM354 168h1.5v1.5h-1.5zM498 168h1.5v1.5h-1.5zM502.5 168h3v1.5h-3zM507 168h1.5v1.5h-1.5zM511.5 168h4.5v1.5h-4.5zM517.5 168h1.5v1.5h-1.5zM520.5 168h7.5v1.5h-7.5zM529.5 168h1.5v1.5h-1.5zM534 168h3v1.5h-3zM538.5 168h3v1.5h-3zM543 168h1.5v1.5h-1.5zM546 168h1.5v1.5h-1.5zM549 168h1.5v1.5h-1.5zM558 168h1.5v1.5h-1.5zM111 169.5h1.5v1.5h-1.5zM115.5 169.5h4.5v1.5h-4.5zM121.5 169.5h1.5v1.5h-1.5zM315 169.5h22.5v1.5h-22.5zM343.5 169.5h1.5v1.5h-1.5zM346.5 169.5h1.5v1.5h-1.5zM502.5 169.5h12v1.5h-12zM517.5 169.5h3v1.5h-3zM522 169.5h7.5v1.5h-7.5zM531 169.5h9v1.5h-9zM541.5 169.5h1.5v1.5h-1.5zM546 169.5h1.5v1.5h-1.5zM553.5 169.5h3v1.5h-3zM564 169.5h1.5v1.5h-1.5zM108 171h1.5v1.5h-1.5zM112.5 171h1.5v1.5h-1.5zM123 171h1.5v1.5h-1.5zM309 171h1.5v1.5h-1.5zM315 171h24v1.5h-24zM342 171h1.5v1.5h-1.5zM345 171h1.5v1.5h-1.5zM354 171h3v1.5h-3zM508.5 171h1.5v1.5h-1.5zM511.5 171h19.5v1.5h-19.5zM532.5 171h7.5v1.5h-7.5zM541.5 171h4.5v1.5h-4.5zM550.5 171h1.5v1.5h-1.5zM558 171h1.5v1.5h-1.5zM115.5 172.5h1.5v1.5h-1.5zM118.5 172.5h1.5v1.5h-1.5zM309 172.5h1.5v1.5h-1.5zM313.5 172.5h24v1.5h-24zM345 172.5h1.5v1.5h-1.5zM348 172.5h1.5v1.5h-1.5zM357 172.5h1.5v1.5h-1.5zM495 172.5h1.5v1.5h-1.5zM502.5 172.5h3v1.5h-3zM507 172.5h3v1.5h-3zM513 172.5h9v1.5h-9zM523.5 172.5h21v1.5h-21zM547.5 172.5h1.5v1.5h-1.5zM115.5 174h1.5v1.5h-1.5zM118.5 174h1.5v1.5h-1.5zM121.5 174h1.5v1.5h-1.5zM315 174h21v1.5h-21zM354 174h1.5v1.5h-1.5zM496.5 174h4.5v1.5h-4.5zM505.5 174h1.5v1.5h-1.5zM508.5 174h4.5v1.5h-4.5zM514.5 174h10.5v1.5h-10.5zM526.5 174h1.5v1.5h-1.5zM529.5 174h6v1.5h-6zM538.5 174h1.5v1.5h-1.5zM114 175.5h4.5v1.5h-4.5zM504 175.5h1.5v1.5h-1.5zM507 175.5h10.5v1.5h-10.5zM519 175.5h4.5v1.5h-4.5zM525 175.5h3v1.5h-3zM529.5 175.5h7.5v1.5h-7.5zM538.5 175.5h3v1.5h-3zM543 175.5h6v1.5h-6zM552 175.5h1.5v1.5h-1.5zM115.5 177h1.5v1.5h-1.5zM528 205.5h1.5v1.5h-1.5zM535.5 205.5h1.5v1.5h-1.5zM130.5 207h1.5v1.5h-1.5zM543 207h1.5v1.5h-1.5zM124.5 208.5h1.5v1.5h-1.5zM127.5 208.5h1.5v1.5h-1.5zM523.5 208.5h1.5v1.5h-1.5zM532.5 208.5h1.5v1.5h-1.5zM535.5 208.5h3v1.5h-3zM529.5 210h1.5v1.5h-1.5zM534 210h1.5v1.5h-1.5zM546 210h1.5v1.5h-1.5zM511.5 211.5h1.5v1.5h-1.5zM517.5 211.5h1.5v1.5h-1.5zM528 211.5h4.5v1.5h-4.5zM522 213h3v1.5h-3zM526.5 213h1.5v1.5h-1.5zM529.5 213h1.5v1.5h-1.5zM532.5 213h1.5v1.5h-1.5zM540 213h1.5v1.5h-1.5zM546 213h1.5v1.5h-1.5zM550.5 213h1.5v1.5h-1.5zM559.5 213h1.5v1.5h-1.5zM514.5 214.5h1.5v1.5h-1.5zM523.5 214.5h1.5v1.5h-1.5zM526.5 214.5h4.5v1.5h-4.5zM541.5 214.5h3v1.5h-3zM547.5 214.5h1.5v1.5h-1.5zM550.5 214.5h1.5v1.5h-1.5zM516 216h3v1.5h-3zM522 216h4.5v1.5h-4.5zM528 216h15v1.5h-15zM547.5 216h3v1.5h-3zM556.5 216h4.5v1.5h-4.5zM514.5 217.5h1.5v1.5h-1.5zM519 217.5h7.5v1.5h-7.5zM528 217.5h4.5v1.5h-4.5zM534 217.5h4.5v1.5h-4.5zM541.5 217.5h1.5v1.5h-1.5zM544.5 217.5h4.5v1.5h-4.5zM550.5 217.5h1.5v1.5h-1.5zM553.5 217.5h3v1.5h-3zM561 217.5h4.5v1.5h-4.5zM519 219h15v1.5h-15zM535.5 219h4.5v1.5h-4.5zM541.5 219h4.5v1.5h-4.5zM547.5 219h7.5v1.5h-7.5zM556.5 219h3v1.5h-3zM514.5 220.5h1.5v1.5h-1.5zM519 220.5h22.5v1.5h-22.5zM547.5 220.5h1.5v1.5h-1.5zM552 220.5h7.5v1.5h-7.5zM564 220.5h1.5v1.5h-1.5zM130.5 222h1.5v1.5h-1.5zM519 222h3v1.5h-3zM525 222h1.5v1.5h-1.5zM528 222h1.5v1.5h-1.5zM531 222h1.5v1.5h-1.5zM535.5 222h4.5v1.5h-4.5zM541.5 222h1.5v1.5h-1.5zM544.5 222h3v1.5h-3zM549 222h3v1.5h-3zM553.5 222h1.5v1.5h-1.5zM556.5 222h6v1.5h-6zM118.5 223.5h3v1.5h-3zM127.5 223.5h1.5v1.5h-1.5zM517.5 223.5h1.5v1.5h-1.5zM525 223.5h1.5v1.5h-1.5zM528 223.5h21v1.5h-21zM552 223.5h9v1.5h-9zM138 225h1.5v1.5h-1.5zM508.5 225h1.5v1.5h-1.5zM517.5 225h3v1.5h-3zM522 225h15v1.5h-15zM538.5 225h3v1.5h-3zM544.5 225h3v1.5h-3zM550.5 225h4.5v1.5h-4.5zM559.5 225h3v1.5h-3zM132 226.5h1.5v1.5h-1.5zM514.5 226.5h1.5v1.5h-1.5zM520.5 226.5h7.5v1.5h-7.5zM529.5 226.5h10.5v1.5h-10.5zM541.5 226.5h1.5v1.5h-1.5zM544.5 226.5h3v1.5h-3zM549 226.5h1.5v1.5h-1.5zM552 226.5h1.5v1.5h-1.5zM555 226.5h1.5v1.5h-1.5zM559.5 226.5h3v1.5h-3zM564 226.5h1.5v1.5h-1.5zM118.5 228h1.5v1.5h-1.5zM124.5 228h3v1.5h-3zM130.5 228h3v1.5h-3zM517.5 228h1.5v1.5h-1.5zM520.5 228h4.5v1.5h-4.5zM526.5 228h10.5v1.5h-10.5zM538.5 228h6v1.5h-6zM547.5 228h3v1.5h-3zM553.5 228h1.5v1.5h-1.5zM559.5 228h3v1.5h-3zM111 229.5h1.5v1.5h-1.5zM117 229.5h9v1.5h-9zM127.5 229.5h7.5v1.5h-7.5zM511.5 229.5h3v1.5h-3zM517.5 229.5h1.5v1.5h-1.5zM520.5 229.5h3v1.5h-3zM525 229.5h4.5v1.5h-4.5zM531 229.5h9v1.5h-9zM543 229.5h6v1.5h-6zM550.5 229.5h1.5v1.5h-1.5zM553.5 229.5h1.5v1.5h-1.5zM556.5 229.5h1.5v1.5h-1.5zM559.5 229.5h1.5v1.5h-1.5zM562.5 229.5h3v1.5h-3zM121.5 231h1.5v1.5h-1.5zM124.5 231h10.5v1.5h-10.5zM511.5 231h1.5v1.5h-1.5zM516 231h1.5v1.5h-1.5zM519 231h15v1.5h-15zM535.5 231h3v1.5h-3zM540 231h4.5v1.5h-4.5zM546 231h3v1.5h-3zM552 231h3v1.5h-3zM556.5 231h4.5v1.5h-4.5zM117 232.5h15v1.5h-15zM133.5 232.5h1.5v1.5h-1.5zM517.5 232.5h3v1.5h-3zM523.5 232.5h21v1.5h-21zM547.5 232.5h6v1.5h-6zM556.5 232.5h4.5v1.5h-4.5zM117 234h3v1.5h-3zM123 234h13.5v1.5h-13.5zM511.5 234h1.5v1.5h-1.5zM514.5 234h3v1.5h-3zM519 234h3v1.5h-3zM525 234h9v1.5h-9zM535.5 234h10.5v1.5h-10.5zM549 234h1.5v1.5h-1.5zM553.5 234h3v1.5h-3zM558 234h1.5v1.5h-1.5zM561 234h3v1.5h-3zM109.5 235.5h1.5v1.5h-1.5zM118.5 235.5h1.5v1.5h-1.5zM123 235.5h12v1.5h-12zM136.5 235.5h4.5v1.5h-4.5zM519 235.5h1.5v1.5h-1.5zM522 235.5h12v1.5h-12zM535.5 235.5h4.5v1.5h-4.5zM546 235.5h3v1.5h-3zM550.5 235.5h1.5v1.5h-1.5zM556.5 235.5h1.5v1.5h-1.5zM559.5 235.5h1.5v1.5h-1.5zM114 237h3v1.5h-3zM120 237h10.5v1.5h-10.5zM132 237h3v1.5h-3zM138 237h1.5v1.5h-1.5zM505.5 237h1.5v1.5h-1.5zM517.5 237h1.5v1.5h-1.5zM520.5 237h1.5v1.5h-1.5zM523.5 237h10.5v1.5h-10.5zM535.5 237h1.5v1.5h-1.5zM538.5 237h1.5v1.5h-1.5zM541.5 237h6v1.5h-6zM550.5 237h10.5v1.5h-10.5zM562.5 237h1.5v1.5h-1.5zM109.5 238.5h1.5v1.5h-1.5zM114 238.5h1.5v1.5h-1.5zM118.5 238.5h4.5v1.5h-4.5zM124.5 238.5h1.5v1.5h-1.5zM129 238.5h1.5v1.5h-1.5zM132 238.5h4.5v1.5h-4.5zM138 238.5h3v1.5h-3zM519 238.5h1.5v1.5h-1.5zM525 238.5h3v1.5h-3zM529.5 238.5h3v1.5h-3zM534 238.5h7.5v1.5h-7.5zM544.5 238.5h3v1.5h-3zM550.5 238.5h1.5v1.5h-1.5zM553.5 238.5h1.5v1.5h-1.5zM556.5 238.5h3v1.5h-3zM114 240h4.5v1.5h-4.5zM120 240h9v1.5h-9zM130.5 240h6v1.5h-6zM514.5 240h1.5v1.5h-1.5zM523.5 240h6v1.5h-6zM531 240h6v1.5h-6zM538.5 240h4.5v1.5h-4.5zM544.5 240h1.5v1.5h-1.5zM547.5 240h1.5v1.5h-1.5zM550.5 240h1.5v1.5h-1.5zM553.5 240h4.5v1.5h-4.5zM559.5 240h1.5v1.5h-1.5zM562.5 240h3v1.5h-3zM115.5 241.5h1.5v1.5h-1.5zM118.5 241.5h3v1.5h-3zM123 241.5h10.5v1.5h-10.5zM135 241.5h1.5v1.5h-1.5zM514.5 241.5h1.5v1.5h-1.5zM519 241.5h1.5v1.5h-1.5zM522 241.5h1.5v1.5h-1.5zM525 241.5h7.5v1.5h-7.5zM534 241.5h7.5v1.5h-7.5zM544.5 241.5h3v1.5h-3zM549 241.5h4.5v1.5h-4.5zM556.5 241.5h1.5v1.5h-1.5zM561 241.5h1.5v1.5h-1.5zM111 243h1.5v1.5h-1.5zM117 243h3v1.5h-3zM121.5 243h3v1.5h-3zM126 243h4.5v1.5h-4.5zM132 243h6v1.5h-6zM139.5 243h1.5v1.5h-1.5zM517.5 243h1.5v1.5h-1.5zM520.5 243h1.5v1.5h-1.5zM523.5 243h3v1.5h-3zM528 243h3v1.5h-3zM534 243h10.5v1.5h-10.5zM546 243h1.5v1.5h-1.5zM549 243h1.5v1.5h-1.5zM552 243h6v1.5h-6zM562.5 243h1.5v1.5h-1.5zM112.5 244.5h3v1.5h-3zM117 244.5h1.5v1.5h-1.5zM120 244.5h3v1.5h-3zM124.5 244.5h3v1.5h-3zM129 244.5h4.5v1.5h-4.5zM517.5 244.5h1.5v1.5h-1.5zM520.5 244.5h3v1.5h-3zM528 244.5h4.5v1.5h-4.5zM534 244.5h1.5v1.5h-1.5zM537 244.5h3v1.5h-3zM544.5 244.5h1.5v1.5h-1.5zM547.5 244.5h1.5v1.5h-1.5zM552 244.5h3v1.5h-3zM556.5 244.5h1.5v1.5h-1.5zM559.5 244.5h1.5v1.5h-1.5zM109.5 246h1.5v1.5h-1.5zM112.5 246h1.5v1.5h-1.5zM115.5 246h1.5v1.5h-1.5zM118.5 246h12v1.5h-12zM520.5 246h3v1.5h-3zM525 246h9v1.5h-9zM535.5 246h3v1.5h-3zM540 246h1.5v1.5h-1.5zM544.5 246h1.5v1.5h-1.5zM550.5 246h3v1.5h-3zM555 246h1.5v1.5h-1.5zM558 246h1.5v1.5h-1.5zM562.5 246h1.5v1.5h-1.5zM114 247.5h1.5v1.5h-1.5zM118.5 247.5h1.5v1.5h-1.5zM121.5 247.5h7.5v1.5h-7.5zM132 247.5h1.5v1.5h-1.5zM517.5 247.5h1.5v1.5h-1.5zM523.5 247.5h1.5v1.5h-1.5zM526.5 247.5h7.5v1.5h-7.5zM535.5 247.5h7.5v1.5h-7.5zM544.5 247.5h3v1.5h-3zM550.5 247.5h1.5v1.5h-1.5zM553.5 247.5h3v1.5h-3zM112.5 249h1.5v1.5h-1.5zM115.5 249h1.5v1.5h-1.5zM121.5 249h6v1.5h-6zM129 249h1.5v1.5h-1.5zM514.5 249h1.5v1.5h-1.5zM523.5 249h1.5v1.5h-1.5zM528 249h1.5v1.5h-1.5zM532.5 249h6v1.5h-6zM541.5 249h4.5v1.5h-4.5zM555 249h4.5v1.5h-4.5zM561 249h4.5v1.5h-4.5zM112.5 250.5h1.5v1.5h-1.5zM115.5 250.5h4.5v1.5h-4.5zM121.5 250.5h3v1.5h-3zM126 250.5h3v1.5h-3zM517.5 250.5h1.5v1.5h-1.5zM525 250.5h6v1.5h-6zM535.5 250.5h1.5v1.5h-1.5zM540 250.5h4.5v1.5h-4.5zM547.5 250.5h1.5v1.5h-1.5zM550.5 250.5h3v1.5h-3zM555 250.5h1.5v1.5h-1.5zM118.5 252h3v1.5h-3zM123 252h4.5v1.5h-4.5zM129 252h1.5v1.5h-1.5zM132 252h1.5v1.5h-1.5zM522 252h9v1.5h-9zM538.5 252h6v1.5h-6zM550.5 252h1.5v1.5h-1.5zM556.5 252h3v1.5h-3zM109.5 253.5h1.5v1.5h-1.5zM112.5 253.5h1.5v1.5h-1.5zM115.5 253.5h15v1.5h-15zM522 253.5h1.5v1.5h-1.5zM528 253.5h1.5v1.5h-1.5zM531 253.5h3v1.5h-3zM535.5 253.5h1.5v1.5h-1.5zM541.5 253.5h3v1.5h-3zM547.5 253.5h1.5v1.5h-1.5zM553.5 253.5h1.5v1.5h-1.5zM114 255h4.5v1.5h-4.5zM120 255h6v1.5h-6zM127.5 255h3v1.5h-3zM132 255h1.5v1.5h-1.5zM520.5 255h1.5v1.5h-1.5zM532.5 255h1.5v1.5h-1.5zM543 255h3v1.5h-3zM552 255h1.5v1.5h-1.5zM115.5 256.5h1.5v1.5h-1.5zM118.5 256.5h1.5v1.5h-1.5zM121.5 256.5h1.5v1.5h-1.5zM124.5 256.5h1.5v1.5h-1.5zM127.5 256.5h1.5v1.5h-1.5zM516 256.5h1.5v1.5h-1.5zM526.5 256.5h1.5v1.5h-1.5zM529.5 256.5h4.5v1.5h-4.5zM535.5 256.5h3v1.5h-3zM541.5 256.5h1.5v1.5h-1.5zM112.5 258h1.5v1.5h-1.5zM115.5 258h4.5v1.5h-4.5zM121.5 258h9v1.5h-9zM132 258h1.5v1.5h-1.5zM514.5 258h1.5v1.5h-1.5zM525 258h1.5v1.5h-1.5zM532.5 258h1.5v1.5h-1.5zM535.5 258h1.5v1.5h-1.5zM540 258h4.5v1.5h-4.5zM109.5 259.5h1.5v1.5h-1.5zM114 259.5h4.5v1.5h-4.5zM120 259.5h4.5v1.5h-4.5zM129 259.5h1.5v1.5h-1.5zM135 259.5h1.5v1.5h-1.5zM508.5 259.5h1.5v1.5h-1.5zM523.5 259.5h7.5v1.5h-7.5zM532.5 259.5h1.5v1.5h-1.5zM537 259.5h1.5v1.5h-1.5zM550.5 259.5h1.5v1.5h-1.5zM120 261h7.5v1.5h-7.5zM129 261h3v1.5h-3zM511.5 261h1.5v1.5h-1.5zM520.5 261h4.5v1.5h-4.5zM528 261h3v1.5h-3zM537 261h1.5v1.5h-1.5zM540 261h3v1.5h-3zM544.5 261h1.5v1.5h-1.5zM552 261h1.5v1.5h-1.5zM115.5 262.5h13.5v1.5h-13.5zM519 262.5h1.5v1.5h-1.5zM522 262.5h3v1.5h-3zM526.5 262.5h7.5v1.5h-7.5zM535.5 262.5h4.5v1.5h-4.5zM543 262.5h1.5v1.5h-1.5zM106.5 264h1.5v1.5h-1.5zM115.5 264h3v1.5h-3zM120 264h9v1.5h-9zM130.5 264h4.5v1.5h-4.5zM514.5 264h1.5v1.5h-1.5zM523.5 264h3v1.5h-3zM528 264h3v1.5h-3zM532.5 264h4.5v1.5h-4.5zM538.5 264h1.5v1.5h-1.5zM541.5 264h1.5v1.5h-1.5zM549 264h1.5v1.5h-1.5zM111 265.5h1.5v1.5h-1.5zM115.5 265.5h3v1.5h-3zM120 265.5h9v1.5h-9zM132 265.5h1.5v1.5h-1.5zM519 265.5h1.5v1.5h-1.5zM525 265.5h1.5v1.5h-1.5zM528 265.5h3v1.5h-3zM532.5 265.5h1.5v1.5h-1.5zM537 265.5h3v1.5h-3zM541.5 265.5h4.5v1.5h-4.5zM547.5 265.5h1.5v1.5h-1.5zM555 265.5h1.5v1.5h-1.5zM114 267h19.5v1.5h-19.5zM520.5 267h1.5v1.5h-1.5zM523.5 267h1.5v1.5h-1.5zM528 267h1.5v1.5h-1.5zM531 267h1.5v1.5h-1.5zM534 267h3v1.5h-3zM541.5 267h3v1.5h-3zM546 267h1.5v1.5h-1.5zM555 267h1.5v1.5h-1.5zM559.5 267h1.5v1.5h-1.5zM109.5 268.5h4.5v1.5h-4.5zM115.5 268.5h1.5v1.5h-1.5zM120 268.5h7.5v1.5h-7.5zM138 268.5h1.5v1.5h-1.5zM142.5 268.5h1.5v1.5h-1.5zM510 268.5h1.5v1.5h-1.5zM522 268.5h6v1.5h-6zM535.5 268.5h12v1.5h-12zM553.5 268.5h1.5v1.5h-1.5zM559.5 268.5h1.5v1.5h-1.5zM114 270h7.5v1.5h-7.5zM123 270h6v1.5h-6zM130.5 270h3v1.5h-3zM516 270h1.5v1.5h-1.5zM522 270h3v1.5h-3zM526.5 270h1.5v1.5h-1.5zM531 270h3v1.5h-3zM535.5 270h3v1.5h-3zM541.5 270h3v1.5h-3zM112.5 271.5h3v1.5h-3zM117 271.5h1.5v1.5h-1.5zM120 271.5h10.5v1.5h-10.5zM133.5 271.5h1.5v1.5h-1.5zM513 271.5h1.5v1.5h-1.5zM516 271.5h1.5v1.5h-1.5zM522 271.5h3v1.5h-3zM526.5 271.5h1.5v1.5h-1.5zM529.5 271.5h1.5v1.5h-1.5zM532.5 271.5h3v1.5h-3zM541.5 271.5h1.5v1.5h-1.5zM544.5 271.5h3v1.5h-3zM549 271.5h3v1.5h-3zM115.5 273h1.5v1.5h-1.5zM118.5 273h1.5v1.5h-1.5zM121.5 273h4.5v1.5h-4.5zM130.5 273h1.5v1.5h-1.5zM510 273h1.5v1.5h-1.5zM523.5 273h4.5v1.5h-4.5zM529.5 273h4.5v1.5h-4.5zM535.5 273h9v1.5h-9zM546 273h1.5v1.5h-1.5zM553.5 273h1.5v1.5h-1.5zM117 274.5h7.5v1.5h-7.5zM129 274.5h1.5v1.5h-1.5zM132 274.5h1.5v1.5h-1.5zM135 274.5h1.5v1.5h-1.5zM516 274.5h4.5v1.5h-4.5zM522 274.5h1.5v1.5h-1.5zM525 274.5h1.5v1.5h-1.5zM528 274.5h7.5v1.5h-7.5zM538.5 274.5h3v1.5h-3zM544.5 274.5h1.5v1.5h-1.5zM549 274.5h1.5v1.5h-1.5zM106.5 276h1.5v1.5h-1.5zM114 276h4.5v1.5h-4.5zM120 276h6v1.5h-6zM127.5 276h1.5v1.5h-1.5zM138 276h1.5v1.5h-1.5zM508.5 276h1.5v1.5h-1.5zM513 276h1.5v1.5h-1.5zM522 276h10.5v1.5h-10.5zM535.5 276h6v1.5h-6zM543 276h3v1.5h-3zM547.5 276h1.5v1.5h-1.5zM106.5 277.5h1.5v1.5h-1.5zM109.5 277.5h4.5v1.5h-4.5zM115.5 277.5h12v1.5h-12zM129 277.5h1.5v1.5h-1.5zM133.5 277.5h1.5v1.5h-1.5zM517.5 277.5h9v1.5h-9zM528 277.5h1.5v1.5h-1.5zM531 277.5h1.5v1.5h-1.5zM534 277.5h3v1.5h-3zM540 277.5h4.5v1.5h-4.5zM546 277.5h1.5v1.5h-1.5zM549 277.5h1.5v1.5h-1.5zM114 279h13.5v1.5h-13.5zM130.5 279h1.5v1.5h-1.5zM510 279h1.5v1.5h-1.5zM513 279h1.5v1.5h-1.5zM516 279h7.5v1.5h-7.5zM525 279h1.5v1.5h-1.5zM528 279h10.5v1.5h-10.5zM541.5 279h3v1.5h-3zM552 279h3v1.5h-3zM114 280.5h4.5v1.5h-4.5zM120 280.5h4.5v1.5h-4.5zM126 280.5h1.5v1.5h-1.5zM129 280.5h3v1.5h-3zM133.5 280.5h1.5v1.5h-1.5zM516 280.5h1.5v1.5h-1.5zM519 280.5h21v1.5h-21zM550.5 280.5h1.5v1.5h-1.5zM558 280.5h1.5v1.5h-1.5zM562.5 280.5h1.5v1.5h-1.5zM112.5 282h3v1.5h-3zM117 282h10.5v1.5h-10.5zM138 282h1.5v1.5h-1.5zM505.5 282h1.5v1.5h-1.5zM513 282h1.5v1.5h-1.5zM519 282h3v1.5h-3zM523.5 282h10.5v1.5h-10.5zM535.5 282h1.5v1.5h-1.5zM538.5 282h1.5v1.5h-1.5zM541.5 282h6v1.5h-6zM549 282h1.5v1.5h-1.5zM552 282h1.5v1.5h-1.5zM111 283.5h1.5v1.5h-1.5zM115.5 283.5h7.5v1.5h-7.5zM124.5 283.5h6v1.5h-6zM507 283.5h1.5v1.5h-1.5zM510 283.5h1.5v1.5h-1.5zM513 283.5h1.5v1.5h-1.5zM516 283.5h1.5v1.5h-1.5zM519 283.5h1.5v1.5h-1.5zM522 283.5h1.5v1.5h-1.5zM525 283.5h4.5v1.5h-4.5zM531 283.5h7.5v1.5h-7.5zM541.5 283.5h1.5v1.5h-1.5zM546 283.5h1.5v1.5h-1.5zM552 283.5h1.5v1.5h-1.5zM114 285h4.5v1.5h-4.5zM123 285h1.5v1.5h-1.5zM127.5 285h1.5v1.5h-1.5zM133.5 285h1.5v1.5h-1.5zM502.5 285h1.5v1.5h-1.5zM511.5 285h6v1.5h-6zM522 285h4.5v1.5h-4.5zM528 285h1.5v1.5h-1.5zM534 285h3v1.5h-3zM541.5 285h1.5v1.5h-1.5zM544.5 285h3v1.5h-3zM552 285h1.5v1.5h-1.5zM559.5 285h1.5v1.5h-1.5zM565.5 285h1.5v1.5h-1.5zM112.5 286.5h10.5v1.5h-10.5zM124.5 286.5h3v1.5h-3zM129 286.5h1.5v1.5h-1.5zM132 286.5h1.5v1.5h-1.5zM508.5 286.5h1.5v1.5h-1.5zM511.5 286.5h3v1.5h-3zM522 286.5h10.5v1.5h-10.5zM534 286.5h10.5v1.5h-10.5zM549 286.5h3v1.5h-3zM553.5 286.5h1.5v1.5h-1.5zM558 286.5h1.5v1.5h-1.5zM562.5 286.5h1.5v1.5h-1.5zM109.5 288h1.5v1.5h-1.5zM112.5 288h13.5v1.5h-13.5zM127.5 288h3v1.5h-3zM382.5 288h1.5v1.5h-1.5zM514.5 288h1.5v1.5h-1.5zM519 288h1.5v1.5h-1.5zM523.5 288h1.5v1.5h-1.5zM526.5 288h4.5v1.5h-4.5zM532.5 288h7.5v1.5h-7.5zM541.5 288h3v1.5h-3zM550.5 288h1.5v1.5h-1.5zM553.5 288h1.5v1.5h-1.5zM556.5 288h1.5v1.5h-1.5zM559.5 288h1.5v1.5h-1.5zM109.5 289.5h15v1.5h-15zM129 289.5h1.5v1.5h-1.5zM132 289.5h1.5v1.5h-1.5zM501 289.5h1.5v1.5h-1.5zM514.5 289.5h6v1.5h-6zM522 289.5h6v1.5h-6zM529.5 289.5h9v1.5h-9zM547.5 289.5h3v1.5h-3zM552 289.5h3v1.5h-3zM109.5 291h1.5v1.5h-1.5zM112.5 291h16.5v1.5h-16.5zM513 291h3v1.5h-3zM517.5 291h4.5v1.5h-4.5zM523.5 291h18v1.5h-18zM544.5 291h1.5v1.5h-1.5zM547.5 291h1.5v1.5h-1.5zM559.5 291h1.5v1.5h-1.5zM108 292.5h1.5v1.5h-1.5zM114 292.5h4.5v1.5h-4.5zM120 292.5h1.5v1.5h-1.5zM123 292.5h3v1.5h-3zM133.5 292.5h3v1.5h-3zM381 292.5h1.5v1.5h-1.5zM501 292.5h1.5v1.5h-1.5zM508.5 292.5h4.5v1.5h-4.5zM514.5 292.5h1.5v1.5h-1.5zM517.5 292.5h19.5v1.5h-19.5zM540 292.5h3v1.5h-3zM544.5 292.5h4.5v1.5h-4.5zM550.5 292.5h1.5v1.5h-1.5zM105 294h3v1.5h-3zM114 294h16.5v1.5h-16.5zM135 294h1.5v1.5h-1.5zM510 294h1.5v1.5h-1.5zM514.5 294h25.5v1.5h-25.5zM543 294h3v1.5h-3zM547.5 294h1.5v1.5h-1.5zM555 294h1.5v1.5h-1.5zM561 294h1.5v1.5h-1.5zM111 295.5h3v1.5h-3zM115.5 295.5h7.5v1.5h-7.5zM124.5 295.5h3v1.5h-3zM129 295.5h3v1.5h-3zM133.5 295.5h1.5v1.5h-1.5zM511.5 295.5h6v1.5h-6zM519 295.5h22.5v1.5h-22.5zM544.5 295.5h1.5v1.5h-1.5zM549 295.5h1.5v1.5h-1.5zM552 295.5h1.5v1.5h-1.5zM106.5 297h1.5v1.5h-1.5zM109.5 297h1.5v1.5h-1.5zM112.5 297h13.5v1.5h-13.5zM130.5 297h1.5v1.5h-1.5zM372 297h1.5v1.5h-1.5zM376.5 297h1.5v1.5h-1.5zM499.5 297h1.5v1.5h-1.5zM505.5 297h10.5v1.5h-10.5zM517.5 297h25.5v1.5h-25.5zM544.5 297h3v1.5h-3zM549 297h1.5v1.5h-1.5zM555 297h1.5v1.5h-1.5zM558 297h1.5v1.5h-1.5zM115.5 298.5h12v1.5h-12zM129 298.5h1.5v1.5h-1.5zM135 298.5h1.5v1.5h-1.5zM336 298.5h1.5v1.5h-1.5zM364.5 298.5h1.5v1.5h-1.5zM384 298.5h1.5v1.5h-1.5zM502.5 298.5h1.5v1.5h-1.5zM507 298.5h1.5v1.5h-1.5zM513 298.5h27v1.5h-27zM543 298.5h3v1.5h-3zM547.5 298.5h1.5v1.5h-1.5zM550.5 298.5h3v1.5h-3zM564 298.5h1.5v1.5h-1.5zM109.5 300h1.5v1.5h-1.5zM114 300h1.5v1.5h-1.5zM118.5 300h7.5v1.5h-7.5zM127.5 300h1.5v1.5h-1.5zM505.5 300h1.5v1.5h-1.5zM510 300h1.5v1.5h-1.5zM513 300h33v1.5h-33zM547.5 300h1.5v1.5h-1.5zM552 300h1.5v1.5h-1.5zM106.5 301.5h1.5v1.5h-1.5zM115.5 301.5h1.5v1.5h-1.5zM120 301.5h6v1.5h-6zM127.5 301.5h3v1.5h-3zM132 301.5h1.5v1.5h-1.5zM505.5 301.5h37.5v1.5h-37.5zM544.5 301.5h3v1.5h-3zM553.5 301.5h3v1.5h-3zM558 301.5h1.5v1.5h-1.5zM561 301.5h1.5v1.5h-1.5zM105 303h1.5v1.5h-1.5zM109.5 303h1.5v1.5h-1.5zM118.5 303h7.5v1.5h-7.5zM127.5 303h3v1.5h-3zM136.5 303h1.5v1.5h-1.5zM310.5 303h1.5v1.5h-1.5zM313.5 303h1.5v1.5h-1.5zM318 303h1.5v1.5h-1.5zM324 303h1.5v1.5h-1.5zM327 303h3v1.5h-3zM333 303h1.5v1.5h-1.5zM337.5 303h3v1.5h-3zM351 303h1.5v1.5h-1.5zM367.5 303h3v1.5h-3zM375 303h1.5v1.5h-1.5zM507 303h1.5v1.5h-1.5zM510 303h34.5v1.5h-34.5zM546 303h1.5v1.5h-1.5zM550.5 303h3v1.5h-3zM555 303h3v1.5h-3zM106.5 304.5h1.5v1.5h-1.5zM109.5 304.5h4.5v1.5h-4.5zM115.5 304.5h1.5v1.5h-1.5zM118.5 304.5h13.5v1.5h-13.5zM319.5 304.5h1.5v1.5h-1.5zM330 304.5h3v1.5h-3zM336 304.5h3v1.5h-3zM340.5 304.5h1.5v1.5h-1.5zM345 304.5h4.5v1.5h-4.5zM354 304.5h1.5v1.5h-1.5zM358.5 304.5h3v1.5h-3zM366 304.5h1.5v1.5h-1.5zM391.5 304.5h1.5v1.5h-1.5zM504 304.5h1.5v1.5h-1.5zM514.5 304.5h30v1.5h-30zM546 304.5h7.5v1.5h-7.5zM108 306h1.5v1.5h-1.5zM111 306h21v1.5h-21zM133.5 306h1.5v1.5h-1.5zM136.5 306h1.5v1.5h-1.5zM313.5 306h3v1.5h-3zM321 306h1.5v1.5h-1.5zM330 306h1.5v1.5h-1.5zM336 306h7.5v1.5h-7.5zM351 306h1.5v1.5h-1.5zM354 306h1.5v1.5h-1.5zM358.5 306h1.5v1.5h-1.5zM361.5 306h6v1.5h-6zM369 306h1.5v1.5h-1.5zM507 306h1.5v1.5h-1.5zM510 306h1.5v1.5h-1.5zM513 306h30v1.5h-30zM547.5 306h1.5v1.5h-1.5zM550.5 306h1.5v1.5h-1.5zM553.5 306h1.5v1.5h-1.5zM111 307.5h25.5v1.5h-25.5zM138 307.5h1.5v1.5h-1.5zM319.5 307.5h1.5v1.5h-1.5zM324 307.5h1.5v1.5h-1.5zM327 307.5h7.5v1.5h-7.5zM336 307.5h10.5v1.5h-10.5zM348 307.5h1.5v1.5h-1.5zM352.5 307.5h1.5v1.5h-1.5zM363 307.5h1.5v1.5h-1.5zM373.5 307.5h1.5v1.5h-1.5zM381 307.5h1.5v1.5h-1.5zM385.5 307.5h1.5v1.5h-1.5zM502.5 307.5h1.5v1.5h-1.5zM505.5 307.5h3v1.5h-3zM511.5 307.5h31.5v1.5h-31.5zM546 307.5h1.5v1.5h-1.5zM552 307.5h3v1.5h-3zM556.5 307.5h1.5v1.5h-1.5zM103.5 309h4.5v1.5h-4.5zM109.5 309h21v1.5h-21zM132 309h1.5v1.5h-1.5zM135 309h1.5v1.5h-1.5zM310.5 309h1.5v1.5h-1.5zM315 309h1.5v1.5h-1.5zM322.5 309h30v1.5h-30zM357 309h1.5v1.5h-1.5zM360 309h4.5v1.5h-4.5zM366 309h1.5v1.5h-1.5zM375 309h1.5v1.5h-1.5zM378 309h3v1.5h-3zM384 309h1.5v1.5h-1.5zM387 309h1.5v1.5h-1.5zM390 309h1.5v1.5h-1.5zM502.5 309h1.5v1.5h-1.5zM510 309h36v1.5h-36zM547.5 309h1.5v1.5h-1.5zM550.5 309h3v1.5h-3zM102 310.5h1.5v1.5h-1.5zM109.5 310.5h21v1.5h-21zM136.5 310.5h1.5v1.5h-1.5zM141 310.5h1.5v1.5h-1.5zM315 310.5h1.5v1.5h-1.5zM321 310.5h1.5v1.5h-1.5zM325.5 310.5h25.5v1.5h-25.5zM352.5 310.5h1.5v1.5h-1.5zM358.5 310.5h1.5v1.5h-1.5zM361.5 310.5h4.5v1.5h-4.5zM373.5 310.5h1.5v1.5h-1.5zM378 310.5h3v1.5h-3zM382.5 310.5h1.5v1.5h-1.5zM390 310.5h3v1.5h-3zM511.5 310.5h34.5v1.5h-34.5zM550.5 310.5h3v1.5h-3zM103.5 312h1.5v1.5h-1.5zM108 312h31.5v1.5h-31.5zM312 312h1.5v1.5h-1.5zM318 312h3v1.5h-3zM322.5 312h28.5v1.5h-28.5zM352.5 312h3v1.5h-3zM357 312h3v1.5h-3zM372 312h3v1.5h-3zM381 312h1.5v1.5h-1.5zM384 312h4.5v1.5h-4.5zM391.5 312h1.5v1.5h-1.5zM511.5 312h31.5v1.5h-31.5zM544.5 312h1.5v1.5h-1.5zM547.5 312h4.5v1.5h-4.5zM553.5 312h1.5v1.5h-1.5zM559.5 312h3v1.5h-3zM106.5 313.5h10.5v1.5h-10.5zM118.5 313.5h12v1.5h-12zM133.5 313.5h3v1.5h-3zM309 313.5h1.5v1.5h-1.5zM321 313.5h1.5v1.5h-1.5zM324 313.5h27v1.5h-27zM355.5 313.5h6v1.5h-6zM363 313.5h1.5v1.5h-1.5zM366 313.5h1.5v1.5h-1.5zM369 313.5h1.5v1.5h-1.5zM373.5 313.5h1.5v1.5h-1.5zM376.5 313.5h1.5v1.5h-1.5zM381 313.5h4.5v1.5h-4.5zM387 313.5h1.5v1.5h-1.5zM502.5 313.5h1.5v1.5h-1.5zM505.5 313.5h1.5v1.5h-1.5zM508.5 313.5h1.5v1.5h-1.5zM511.5 313.5h34.5v1.5h-34.5zM547.5 313.5h1.5v1.5h-1.5zM552 313.5h1.5v1.5h-1.5zM105 315h1.5v1.5h-1.5zM109.5 315h22.5v1.5h-22.5zM133.5 315h1.5v1.5h-1.5zM138 315h1.5v1.5h-1.5zM300 315h1.5v1.5h-1.5zM321 315h33v1.5h-33zM355.5 315h3v1.5h-3zM364.5 315h6v1.5h-6zM375 315h3v1.5h-3zM384 315h1.5v1.5h-1.5zM387 315h3v1.5h-3zM504 315h1.5v1.5h-1.5zM508.5 315h37.5v1.5h-37.5zM547.5 315h4.5v1.5h-4.5zM553.5 315h3v1.5h-3zM105 316.5h28.5v1.5h-28.5zM135 316.5h1.5v1.5h-1.5zM138 316.5h1.5v1.5h-1.5zM312 316.5h1.5v1.5h-1.5zM316.5 316.5h39v1.5h-39zM357 316.5h1.5v1.5h-1.5zM360 316.5h1.5v1.5h-1.5zM370.5 316.5h3v1.5h-3zM375 316.5h3v1.5h-3zM384 316.5h1.5v1.5h-1.5zM390 316.5h1.5v1.5h-1.5zM507 316.5h3v1.5h-3zM511.5 316.5h40.5v1.5h-40.5zM553.5 316.5h1.5v1.5h-1.5zM106.5 318h28.5v1.5h-28.5zM136.5 318h1.5v1.5h-1.5zM139.5 318h1.5v1.5h-1.5zM313.5 318h1.5v1.5h-1.5zM318 318h34.5v1.5h-34.5zM354 318h1.5v1.5h-1.5zM357 318h3v1.5h-3zM361.5 318h3v1.5h-3zM366 318h1.5v1.5h-1.5zM375 318h1.5v1.5h-1.5zM381 318h1.5v1.5h-1.5zM384 318h1.5v1.5h-1.5zM507 318h1.5v1.5h-1.5zM510 318h36v1.5h-36zM550.5 318h1.5v1.5h-1.5zM108 319.5h24v1.5h-24zM135 319.5h1.5v1.5h-1.5zM307.5 319.5h1.5v1.5h-1.5zM312 319.5h3v1.5h-3zM319.5 319.5h34.5v1.5h-34.5zM355.5 319.5h1.5v1.5h-1.5zM358.5 319.5h1.5v1.5h-1.5zM361.5 319.5h1.5v1.5h-1.5zM376.5 319.5h1.5v1.5h-1.5zM499.5 319.5h4.5v1.5h-4.5zM510 319.5h36v1.5h-36zM547.5 319.5h6v1.5h-6zM559.5 319.5h1.5v1.5h-1.5zM103.5 321h1.5v1.5h-1.5zM108 321h28.5v1.5h-28.5zM141 321h1.5v1.5h-1.5zM309 321h6v1.5h-6zM318 321h33v1.5h-33zM352.5 321h3v1.5h-3zM364.5 321h1.5v1.5h-1.5zM373.5 321h1.5v1.5h-1.5zM390 321h1.5v1.5h-1.5zM505.5 321h1.5v1.5h-1.5zM508.5 321h36v1.5h-36zM550.5 321h1.5v1.5h-1.5zM553.5 321h1.5v1.5h-1.5zM556.5 321h1.5v1.5h-1.5zM106.5 322.5h1.5v1.5h-1.5zM109.5 322.5h27v1.5h-27zM138 322.5h3v1.5h-3zM307.5 322.5h3v1.5h-3zM313.5 322.5h1.5v1.5h-1.5zM318 322.5h36v1.5h-36zM355.5 322.5h3v1.5h-3zM363 322.5h1.5v1.5h-1.5zM367.5 322.5h1.5v1.5h-1.5zM379.5 322.5h1.5v1.5h-1.5zM492 322.5h1.5v1.5h-1.5zM505.5 322.5h1.5v1.5h-1.5zM510 322.5h39v1.5h-39zM552 322.5h1.5v1.5h-1.5zM555 322.5h1.5v1.5h-1.5zM559.5 322.5h1.5v1.5h-1.5zM567 322.5h1.5v1.5h-1.5zM105 324h1.5v1.5h-1.5zM108 324h22.5v1.5h-22.5zM133.5 324h1.5v1.5h-1.5zM316.5 324h37.5v1.5h-37.5zM378 324h1.5v1.5h-1.5zM390 324h1.5v1.5h-1.5zM504 324h1.5v1.5h-1.5zM508.5 324h37.5v1.5h-37.5zM549 324h1.5v1.5h-1.5zM102 325.5h1.5v1.5h-1.5zM106.5 325.5h1.5v1.5h-1.5zM109.5 325.5h4.5v1.5h-4.5zM115.5 325.5h16.5v1.5h-16.5zM307.5 325.5h1.5v1.5h-1.5zM312 325.5h1.5v1.5h-1.5zM316.5 325.5h36v1.5h-36zM354 325.5h3v1.5h-3zM358.5 325.5h1.5v1.5h-1.5zM369 325.5h1.5v1.5h-1.5zM379.5 325.5h1.5v1.5h-1.5zM501 325.5h1.5v1.5h-1.5zM510 325.5h1.5v1.5h-1.5zM513 325.5h30v1.5h-30zM544.5 325.5h3v1.5h-3zM549 325.5h3v1.5h-3zM553.5 325.5h1.5v1.5h-1.5zM106.5 327h25.5v1.5h-25.5zM307.5 327h1.5v1.5h-1.5zM313.5 327h37.5v1.5h-37.5zM355.5 327h1.5v1.5h-1.5zM358.5 327h4.5v1.5h-4.5zM505.5 327h1.5v1.5h-1.5zM511.5 327h1.5v1.5h-1.5zM514.5 327h28.5v1.5h-28.5zM552 327h1.5v1.5h-1.5zM558 327h1.5v1.5h-1.5zM108 328.5h24v1.5h-24zM133.5 328.5h1.5v1.5h-1.5zM139.5 328.5h1.5v1.5h-1.5zM315 328.5h31.5v1.5h-31.5zM358.5 328.5h1.5v1.5h-1.5zM363 328.5h3v1.5h-3zM502.5 328.5h1.5v1.5h-1.5zM510 328.5h1.5v1.5h-1.5zM513 328.5h31.5v1.5h-31.5zM546 328.5h1.5v1.5h-1.5zM549 328.5h1.5v1.5h-1.5zM556.5 328.5h1.5v1.5h-1.5zM103.5 330h1.5v1.5h-1.5zM108 330h21v1.5h-21zM132 330h1.5v1.5h-1.5zM135 330h1.5v1.5h-1.5zM315 330h30v1.5h-30zM346.5 330h3v1.5h-3zM355.5 330h1.5v1.5h-1.5zM499.5 330h1.5v1.5h-1.5zM504 330h3v1.5h-3zM511.5 330h30v1.5h-30zM543 330h1.5v1.5h-1.5zM552 330h3v1.5h-3zM105 331.5h24v1.5h-24zM130.5 331.5h1.5v1.5h-1.5zM312 331.5h3v1.5h-3zM316.5 331.5h30v1.5h-30zM348 331.5h3v1.5h-3zM511.5 331.5h25.5v1.5h-25.5zM538.5 331.5h7.5v1.5h-7.5zM549 331.5h3v1.5h-3zM555 331.5h1.5v1.5h-1.5zM106.5 333h24v1.5h-24zM312 333h4.5v1.5h-4.5zM318 333h25.5v1.5h-25.5zM345 333h1.5v1.5h-1.5zM349.5 333h1.5v1.5h-1.5zM352.5 333h1.5v1.5h-1.5zM357 333h1.5v1.5h-1.5zM369 333h1.5v1.5h-1.5zM505.5 333h1.5v1.5h-1.5zM513 333h31.5v1.5h-31.5zM546 333h1.5v1.5h-1.5zM549 333h3v1.5h-3zM106.5 334.5h1.5v1.5h-1.5zM109.5 334.5h21v1.5h-21zM307.5 334.5h1.5v1.5h-1.5zM313.5 334.5h1.5v1.5h-1.5zM318 334.5h25.5v1.5h-25.5zM345 334.5h3v1.5h-3zM351 334.5h3v1.5h-3zM499.5 334.5h1.5v1.5h-1.5zM505.5 334.5h1.5v1.5h-1.5zM510 334.5h3v1.5h-3zM514.5 334.5h27v1.5h-27zM543 334.5h3v1.5h-3zM550.5 334.5h1.5v1.5h-1.5zM555 334.5h1.5v1.5h-1.5zM561 334.5h1.5v1.5h-1.5zM108 336h19.5v1.5h-19.5zM129 336h1.5v1.5h-1.5zM139.5 336h1.5v1.5h-1.5zM312 336h1.5v1.5h-1.5zM315 336h1.5v1.5h-1.5zM318 336h24v1.5h-24zM346.5 336h1.5v1.5h-1.5zM352.5 336h3v1.5h-3zM373.5 336h1.5v1.5h-1.5zM513 336h27v1.5h-27zM541.5 336h1.5v1.5h-1.5zM544.5 336h1.5v1.5h-1.5zM550.5 336h4.5v1.5h-4.5zM108 337.5h19.5v1.5h-19.5zM307.5 337.5h1.5v1.5h-1.5zM316.5 337.5h24v1.5h-24zM343.5 337.5h4.5v1.5h-4.5zM351 337.5h1.5v1.5h-1.5zM502.5 337.5h3v1.5h-3zM507 337.5h1.5v1.5h-1.5zM510 337.5h3v1.5h-3zM514.5 337.5h24v1.5h-24zM540 337.5h1.5v1.5h-1.5zM543 337.5h3v1.5h-3zM547.5 337.5h3v1.5h-3zM553.5 337.5h1.5v1.5h-1.5zM556.5 337.5h1.5v1.5h-1.5zM106.5 339h1.5v1.5h-1.5zM109.5 339h19.5v1.5h-19.5zM309 339h1.5v1.5h-1.5zM312 339h1.5v1.5h-1.5zM315 339h1.5v1.5h-1.5zM318 339h19.5v1.5h-19.5zM339 339h1.5v1.5h-1.5zM342 339h3v1.5h-3zM346.5 339h1.5v1.5h-1.5zM349.5 339h1.5v1.5h-1.5zM493.5 339h1.5v1.5h-1.5zM498 339h1.5v1.5h-1.5zM505.5 339h1.5v1.5h-1.5zM508.5 339h1.5v1.5h-1.5zM511.5 339h3v1.5h-3zM516 339h30v1.5h-30zM103.5 340.5h1.5v1.5h-1.5zM109.5 340.5h18v1.5h-18zM130.5 340.5h1.5v1.5h-1.5zM316.5 340.5h27v1.5h-27zM496.5 340.5h1.5v1.5h-1.5zM505.5 340.5h1.5v1.5h-1.5zM511.5 340.5h3v1.5h-3zM516 340.5h24v1.5h-24zM541.5 340.5h3v1.5h-3zM552 340.5h1.5v1.5h-1.5zM556.5 340.5h1.5v1.5h-1.5zM561 340.5h1.5v1.5h-1.5zM108 342h18v1.5h-18zM127.5 342h1.5v1.5h-1.5zM304.5 342h1.5v1.5h-1.5zM307.5 342h1.5v1.5h-1.5zM318 342h24v1.5h-24zM348 342h1.5v1.5h-1.5zM357 342h1.5v1.5h-1.5zM499.5 342h3v1.5h-3zM504 342h1.5v1.5h-1.5zM514.5 342h27v1.5h-27zM543 342h3v1.5h-3zM555 342h1.5v1.5h-1.5zM108 343.5h19.5v1.5h-19.5zM312 343.5h1.5v1.5h-1.5zM318 343.5h19.5v1.5h-19.5zM342 343.5h1.5v1.5h-1.5zM361.5 343.5h1.5v1.5h-1.5zM499.5 343.5h1.5v1.5h-1.5zM510 343.5h3v1.5h-3zM514.5 343.5h25.5v1.5h-25.5zM541.5 343.5h6v1.5h-6zM570 343.5h1.5v1.5h-1.5zM106.5 345h19.5v1.5h-19.5zM315 345h1.5v1.5h-1.5zM318 345h18v1.5h-18zM337.5 345h1.5v1.5h-1.5zM340.5 345h1.5v1.5h-1.5zM346.5 345h1.5v1.5h-1.5zM493.5 345h1.5v1.5h-1.5zM508.5 345h1.5v1.5h-1.5zM511.5 345h1.5v1.5h-1.5zM516 345h25.5v1.5h-25.5zM546 345h1.5v1.5h-1.5zM552 345h1.5v1.5h-1.5zM105 346.5h1.5v1.5h-1.5zM109.5 346.5h10.5v1.5h-10.5zM121.5 346.5h4.5v1.5h-4.5zM130.5 346.5h1.5v1.5h-1.5zM315 346.5h1.5v1.5h-1.5zM319.5 346.5h15v1.5h-15zM337.5 346.5h1.5v1.5h-1.5zM510 346.5h4.5v1.5h-4.5zM517.5 346.5h27v1.5h-27zM546 346.5h1.5v1.5h-1.5zM550.5 346.5h1.5v1.5h-1.5zM109.5 348h16.5v1.5h-16.5zM313.5 348h1.5v1.5h-1.5zM318 348h18v1.5h-18zM340.5 348h1.5v1.5h-1.5zM351 348h1.5v1.5h-1.5zM510 348h3v1.5h-3zM514.5 348h1.5v1.5h-1.5zM517.5 348h25.5v1.5h-25.5z"/>
<g fill="#000" opacity="0.999">
<text x="127.57" y="29.00" font-size="25.1" text-anchor="start" >+</text>
<text x="143.10" y="26.26" font-size="24.5" text-anchor="start" >/</text>
<text x="150.77" y="29.00" font-size="25.1" text-anchor="start" >+</text>
<text x="316.40" y="24.30" font-size="22" text-anchor="start" >&#8211;</text>
<text x="329.40" y="25.66" font-size="24.9" text-anchor="start" >/</text>
<text x="337.00" y="24.30" font-size="22" text-anchor="start" >&#8211;</text>
<text x="456.40" y="24.90" font-size="22" text-anchor="start" >&#8211;</text>
<text x="469.50" y="26.07" font-size="23.9" text-anchor="start" >/</text>
<text x="477.00" y="24.90" font-size="22" text-anchor="start" >&#8211;</text>
<text x="517.04" y="25.50" font-size="23.9" text-anchor="start" >Pax5</text>
<text transform="translate(22.4,166.54) rotate(-90)" font-size="24.4">CD40</text>
<text transform="translate(22.5,329.84) rotate(-90)" font-size="25.3">IgM</text>
<text x="41.71" y="41.40" font-size="19.8">0<tspan font-size="12" dy="-7.40">4</tspan></text>
<text x="43.61" y="113.40" font-size="19.8">0<tspan font-size="12" dy="-7.50">2</tspan></text>
<text x="41.71" y="184.60" font-size="19.8">0<tspan font-size="12" dy="-7.20">0</tspan></text>
<text x="40.31" y="214.00" font-size="19.8">0<tspan font-size="12" dy="-7.40">4</tspan></text>
<text x="41.41" y="285.80" font-size="19.8">0<tspan font-size="12" dy="-7.00">2</tspan></text>
<text x="40.01" y="357.60" font-size="19.8">0<tspan font-size="12" dy="-7.20">0</tspan></text>
<text x="67.10" y="372.80" font-size="19.8" text-anchor="middle" >0</text>
<text x="129.98" y="372.80" font-size="19.8" text-anchor="middle" >400</text>
<text x="192.86" y="372.80" font-size="19.8" text-anchor="middle" >800</text>
<text x="253.30" y="372.80" font-size="19.8" text-anchor="middle" >0</text>
<text x="316.18" y="372.80" font-size="19.8" text-anchor="middle" >400</text>
<text x="379.06" y="372.80" font-size="19.8" text-anchor="middle" >800</text>
<text x="437.00" y="372.80" font-size="19.8" text-anchor="middle" >0</text>
<text x="499.88" y="372.80" font-size="19.8" text-anchor="middle" >400</text>
<text x="562.76" y="372.80" font-size="19.8" text-anchor="middle" >800</text>
<text x="324.20" y="410.90" font-size="23.8" text-anchor="middle" >FSC (cell size)</text>
<path d="M35.85 27.70H37.55V41.40H35.85ZM35.85 27.70L35.85 29.60L32.20 31.60L32.20 29.80ZM37.75 99.70H39.45V113.40H37.75ZM37.75 99.70L37.75 101.60L34.10 103.60L34.10 101.80ZM35.85 170.90H37.55V184.60H35.85ZM35.85 170.90L35.85 172.80L32.20 174.80L32.20 173.00ZM34.45 200.30H36.15V214.00H34.45ZM34.45 200.30L34.45 202.20L30.80 204.20L30.80 202.40ZM35.55 272.10H37.25V285.80H35.55ZM35.55 272.10L35.55 274.00L31.90 276.00L31.90 274.20ZM34.15 343.90H35.85V357.60H34.15ZM34.15 343.90L34.15 345.80L30.50 347.80L30.50 346.00Z"/>
</g>
</g>
</svg>
</body></html>
